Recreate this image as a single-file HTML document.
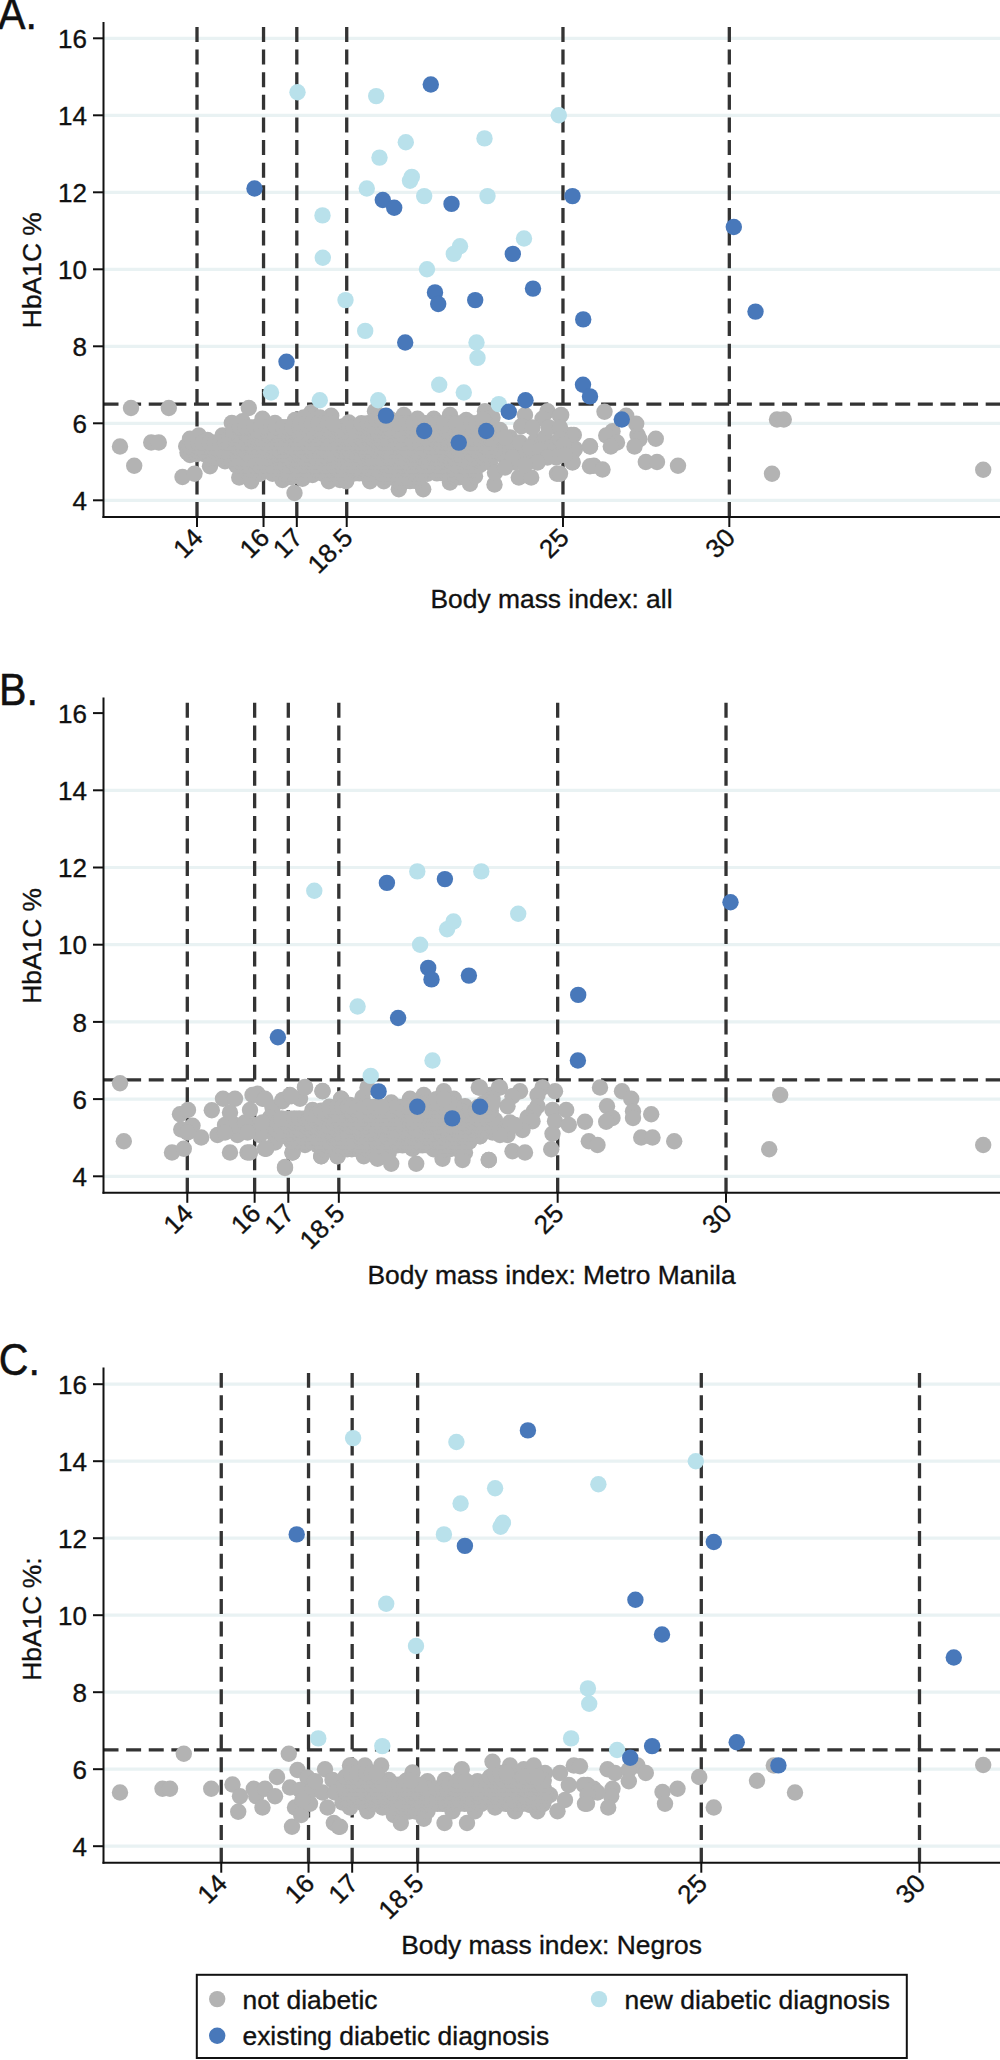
<!DOCTYPE html>
<html lang="en"><head><meta charset="utf-8"><title>HbA1C vs body mass index</title>
<style>html,body{margin:0;padding:0;background:#fff}svg{display:block}</style>
</head><body>
<svg width="1000" height="2060" viewBox="0 0 1000 2060">
<rect width="1000" height="2060" fill="#ffffff"/>
<g id="panelA">
<line x1="104" y1="500.30" x2="1000" y2="500.30" stroke="#e9f2f3" stroke-width="3.2"/>
<line x1="104" y1="423.30" x2="1000" y2="423.30" stroke="#e9f2f3" stroke-width="3.2"/>
<line x1="104" y1="346.30" x2="1000" y2="346.30" stroke="#e9f2f3" stroke-width="3.2"/>
<line x1="104" y1="269.30" x2="1000" y2="269.30" stroke="#e9f2f3" stroke-width="3.2"/>
<line x1="104" y1="192.30" x2="1000" y2="192.30" stroke="#e9f2f3" stroke-width="3.2"/>
<line x1="104" y1="115.30" x2="1000" y2="115.30" stroke="#e9f2f3" stroke-width="3.2"/>
<line x1="104" y1="38.30" x2="1000" y2="38.30" stroke="#e9f2f3" stroke-width="3.2"/>
<line x1="197.00" y1="517.00" x2="197.00" y2="26.50" stroke="#333333" stroke-width="3.3" stroke-dasharray="15 7.62"/>
<line x1="263.54" y1="517.00" x2="263.54" y2="26.50" stroke="#333333" stroke-width="3.3" stroke-dasharray="15 7.62"/>
<line x1="296.81" y1="517.00" x2="296.81" y2="26.50" stroke="#333333" stroke-width="3.3" stroke-dasharray="15 7.62"/>
<line x1="346.72" y1="517.00" x2="346.72" y2="26.50" stroke="#333333" stroke-width="3.3" stroke-dasharray="15 7.62"/>
<line x1="562.97" y1="517.00" x2="562.97" y2="26.50" stroke="#333333" stroke-width="3.3" stroke-dasharray="15 7.62"/>
<line x1="729.32" y1="517.00" x2="729.32" y2="26.50" stroke="#333333" stroke-width="3.3" stroke-dasharray="15 7.62"/>
<line x1="103.5" y1="404.05" x2="1000" y2="404.05" stroke="#333333" stroke-width="3.3" stroke-dasharray="15 7.62"/>
<g fill="#b3b3b3">
<circle cx="131.0" cy="408.0" r="8.2"/>
<circle cx="168.8" cy="408.0" r="8.2"/>
<circle cx="120.0" cy="446.5" r="8.2"/>
<circle cx="151.2" cy="442.5" r="8.2"/>
<circle cx="158.8" cy="442.5" r="8.2"/>
<circle cx="134.2" cy="465.8" r="8.2"/>
<circle cx="182.5" cy="477.0" r="8.2"/>
<circle cx="194.5" cy="473.8" r="8.2"/>
<circle cx="248.8" cy="408.0" r="8.2"/>
<circle cx="294.5" cy="493.0" r="8.2"/>
<circle cx="239.2" cy="477.5" r="8.2"/>
<circle cx="251.2" cy="481.2" r="8.2"/>
<circle cx="331.2" cy="415.8" r="8.2"/>
<circle cx="311.2" cy="412.5" r="8.2"/>
<circle cx="190.0" cy="438.8" r="8.2"/>
<circle cx="198.8" cy="435.5" r="8.2"/>
<circle cx="207.5" cy="440.0" r="8.2"/>
<circle cx="222.5" cy="435.5" r="8.2"/>
<circle cx="231.8" cy="423.0" r="8.2"/>
<circle cx="242.5" cy="421.2" r="8.2"/>
<circle cx="262.5" cy="418.8" r="8.2"/>
<circle cx="275.0" cy="423.0" r="8.2"/>
<circle cx="295.0" cy="420.0" r="8.2"/>
<circle cx="303.8" cy="417.5" r="8.2"/>
<circle cx="320.0" cy="417.5" r="8.2"/>
<circle cx="343.8" cy="426.2" r="8.2"/>
<circle cx="190.0" cy="455.0" r="8.2"/>
<circle cx="210.0" cy="466.2" r="8.2"/>
<circle cx="225.0" cy="461.2" r="8.2"/>
<circle cx="260.0" cy="473.8" r="8.2"/>
<circle cx="272.5" cy="473.8" r="8.2"/>
<circle cx="282.5" cy="480.0" r="8.2"/>
<circle cx="302.5" cy="478.8" r="8.2"/>
<circle cx="312.5" cy="475.0" r="8.2"/>
<circle cx="328.8" cy="481.2" r="8.2"/>
<circle cx="340.0" cy="480.0" r="8.2"/>
<circle cx="186.2" cy="446.2" r="8.2"/>
<circle cx="187.5" cy="452.5" r="8.2"/>
<circle cx="348.8" cy="422.5" r="8.2"/>
<circle cx="375.0" cy="411.2" r="8.2"/>
<circle cx="403.8" cy="415.0" r="8.2"/>
<circle cx="417.5" cy="418.8" r="8.2"/>
<circle cx="433.8" cy="418.8" r="8.2"/>
<circle cx="450.0" cy="415.0" r="8.2"/>
<circle cx="466.2" cy="420.0" r="8.2"/>
<circle cx="485.0" cy="411.2" r="8.2"/>
<circle cx="492.5" cy="417.5" r="8.2"/>
<circle cx="525.0" cy="415.0" r="8.2"/>
<circle cx="521.2" cy="426.2" r="8.2"/>
<circle cx="547.5" cy="411.2" r="8.2"/>
<circle cx="542.5" cy="418.8" r="8.2"/>
<circle cx="561.2" cy="415.0" r="8.2"/>
<circle cx="561.2" cy="431.2" r="8.2"/>
<circle cx="573.8" cy="435.0" r="8.2"/>
<circle cx="535.0" cy="441.2" r="8.2"/>
<circle cx="575.0" cy="448.8" r="8.2"/>
<circle cx="590.0" cy="446.2" r="8.2"/>
<circle cx="590.0" cy="466.2" r="8.2"/>
<circle cx="346.2" cy="481.2" r="8.2"/>
<circle cx="370.0" cy="481.2" r="8.2"/>
<circle cx="383.8" cy="481.2" r="8.2"/>
<circle cx="398.8" cy="489.2" r="8.2"/>
<circle cx="423.2" cy="489.2" r="8.2"/>
<circle cx="427.5" cy="473.8" r="8.2"/>
<circle cx="450.0" cy="482.5" r="8.2"/>
<circle cx="470.0" cy="483.8" r="8.2"/>
<circle cx="475.0" cy="476.2" r="8.2"/>
<circle cx="494.5" cy="484.5" r="8.2"/>
<circle cx="490.0" cy="462.5" r="8.2"/>
<circle cx="518.8" cy="477.5" r="8.2"/>
<circle cx="531.2" cy="477.5" r="8.2"/>
<circle cx="515.0" cy="462.5" r="8.2"/>
<circle cx="535.0" cy="457.5" r="8.2"/>
<circle cx="557.0" cy="473.8" r="8.2"/>
<circle cx="556.2" cy="457.5" r="8.2"/>
<circle cx="572.5" cy="462.5" r="8.2"/>
<circle cx="500.0" cy="430.0" r="8.2"/>
<circle cx="510.0" cy="437.5" r="8.2"/>
<circle cx="515.0" cy="447.5" r="8.2"/>
<circle cx="502.5" cy="455.0" r="8.2"/>
<circle cx="525.0" cy="452.5" r="8.2"/>
<circle cx="545.0" cy="437.5" r="8.2"/>
<circle cx="550.0" cy="447.5" r="8.2"/>
<circle cx="565.0" cy="445.0" r="8.2"/>
<circle cx="548.8" cy="427.5" r="8.2"/>
<circle cx="532.5" cy="427.5" r="8.2"/>
<circle cx="502.5" cy="442.5" r="8.2"/>
<circle cx="495.0" cy="450.0" r="8.2"/>
<circle cx="505.0" cy="437.5" r="8.2"/>
<circle cx="512.5" cy="457.5" r="8.2"/>
<circle cx="520.0" cy="442.5" r="8.2"/>
<circle cx="530.0" cy="447.5" r="8.2"/>
<circle cx="540.0" cy="450.0" r="8.2"/>
<circle cx="547.5" cy="457.5" r="8.2"/>
<circle cx="537.5" cy="462.5" r="8.2"/>
<circle cx="525.0" cy="465.0" r="8.2"/>
<circle cx="557.5" cy="442.5" r="8.2"/>
<circle cx="567.5" cy="452.5" r="8.2"/>
<circle cx="490.0" cy="437.5" r="8.2"/>
<circle cx="482.5" cy="445.0" r="8.2"/>
<circle cx="485.0" cy="455.0" r="8.2"/>
<circle cx="480.0" cy="465.0" r="8.2"/>
<circle cx="495.0" cy="472.5" r="8.2"/>
<circle cx="505.0" cy="467.5" r="8.2"/>
<circle cx="560.0" cy="415.8" r="8.2"/>
<circle cx="604.5" cy="411.8" r="8.2"/>
<circle cx="626.2" cy="415.8" r="8.2"/>
<circle cx="636.2" cy="423.8" r="8.2"/>
<circle cx="612.5" cy="431.2" r="8.2"/>
<circle cx="606.2" cy="435.5" r="8.2"/>
<circle cx="637.5" cy="435.0" r="8.2"/>
<circle cx="639.5" cy="439.2" r="8.2"/>
<circle cx="655.8" cy="438.8" r="8.2"/>
<circle cx="617.0" cy="442.5" r="8.2"/>
<circle cx="610.8" cy="446.5" r="8.2"/>
<circle cx="634.5" cy="446.5" r="8.2"/>
<circle cx="590.0" cy="446.5" r="8.2"/>
<circle cx="571.2" cy="435.0" r="8.2"/>
<circle cx="573.8" cy="450.5" r="8.2"/>
<circle cx="572.5" cy="462.0" r="8.2"/>
<circle cx="560.0" cy="427.5" r="8.2"/>
<circle cx="560.0" cy="438.8" r="8.2"/>
<circle cx="560.0" cy="455.0" r="8.2"/>
<circle cx="593.8" cy="465.8" r="8.2"/>
<circle cx="602.5" cy="469.5" r="8.2"/>
<circle cx="645.8" cy="462.0" r="8.2"/>
<circle cx="657.0" cy="462.0" r="8.2"/>
<circle cx="678.0" cy="465.8" r="8.2"/>
<circle cx="560.0" cy="473.8" r="8.2"/>
<circle cx="777.0" cy="419.5" r="8.2"/>
<circle cx="783.8" cy="419.5" r="8.2"/>
<circle cx="772.0" cy="473.8" r="8.2"/>
<circle cx="563.8" cy="445.0" r="8.2"/>
<circle cx="565.0" cy="455.0" r="8.2"/>
<circle cx="983.2" cy="469.8" r="8.2"/>
<circle cx="398.2" cy="481.1" r="8.2"/>
<circle cx="405.5" cy="481.1" r="8.2"/>
<circle cx="410.0" cy="481.1" r="8.2"/>
<circle cx="416.3" cy="481.1" r="8.2"/>
<circle cx="291.2" cy="477.2" r="8.2"/>
<circle cx="386.8" cy="477.2" r="8.2"/>
<circle cx="391.6" cy="477.2" r="8.2"/>
<circle cx="397.9" cy="477.2" r="8.2"/>
<circle cx="401.3" cy="477.2" r="8.2"/>
<circle cx="407.4" cy="477.2" r="8.2"/>
<circle cx="414.5" cy="477.2" r="8.2"/>
<circle cx="419.6" cy="477.2" r="8.2"/>
<circle cx="449.5" cy="477.2" r="8.2"/>
<circle cx="454.7" cy="477.2" r="8.2"/>
<circle cx="459.2" cy="477.2" r="8.2"/>
<circle cx="465.0" cy="477.2" r="8.2"/>
<circle cx="249.2" cy="473.4" r="8.2"/>
<circle cx="278.8" cy="473.4" r="8.2"/>
<circle cx="284.7" cy="473.4" r="8.2"/>
<circle cx="288.4" cy="473.4" r="8.2"/>
<circle cx="293.7" cy="473.4" r="8.2"/>
<circle cx="301.6" cy="473.4" r="8.2"/>
<circle cx="322.2" cy="473.4" r="8.2"/>
<circle cx="329.4" cy="473.4" r="8.2"/>
<circle cx="335.3" cy="473.4" r="8.2"/>
<circle cx="341.1" cy="473.4" r="8.2"/>
<circle cx="348.1" cy="473.4" r="8.2"/>
<circle cx="354.5" cy="473.4" r="8.2"/>
<circle cx="359.3" cy="473.4" r="8.2"/>
<circle cx="365.1" cy="473.4" r="8.2"/>
<circle cx="368.4" cy="473.4" r="8.2"/>
<circle cx="373.8" cy="473.4" r="8.2"/>
<circle cx="381.6" cy="473.4" r="8.2"/>
<circle cx="386.9" cy="473.4" r="8.2"/>
<circle cx="393.9" cy="473.4" r="8.2"/>
<circle cx="397.2" cy="473.4" r="8.2"/>
<circle cx="401.8" cy="473.4" r="8.2"/>
<circle cx="407.5" cy="473.4" r="8.2"/>
<circle cx="414.7" cy="473.4" r="8.2"/>
<circle cx="419.7" cy="473.4" r="8.2"/>
<circle cx="436.9" cy="473.4" r="8.2"/>
<circle cx="442.9" cy="473.4" r="8.2"/>
<circle cx="447.0" cy="473.4" r="8.2"/>
<circle cx="453.7" cy="473.4" r="8.2"/>
<circle cx="461.6" cy="473.4" r="8.2"/>
<circle cx="465.5" cy="473.4" r="8.2"/>
<circle cx="243.5" cy="469.5" r="8.2"/>
<circle cx="249.7" cy="469.5" r="8.2"/>
<circle cx="254.9" cy="469.5" r="8.2"/>
<circle cx="259.8" cy="469.5" r="8.2"/>
<circle cx="264.7" cy="469.5" r="8.2"/>
<circle cx="270.1" cy="469.5" r="8.2"/>
<circle cx="274.5" cy="469.5" r="8.2"/>
<circle cx="280.1" cy="469.5" r="8.2"/>
<circle cx="284.1" cy="469.5" r="8.2"/>
<circle cx="290.9" cy="469.5" r="8.2"/>
<circle cx="296.2" cy="469.5" r="8.2"/>
<circle cx="300.8" cy="469.5" r="8.2"/>
<circle cx="305.1" cy="469.5" r="8.2"/>
<circle cx="310.8" cy="469.5" r="8.2"/>
<circle cx="316.3" cy="469.5" r="8.2"/>
<circle cx="320.0" cy="469.5" r="8.2"/>
<circle cx="326.4" cy="469.5" r="8.2"/>
<circle cx="331.3" cy="469.5" r="8.2"/>
<circle cx="337.6" cy="469.5" r="8.2"/>
<circle cx="341.4" cy="469.5" r="8.2"/>
<circle cx="345.5" cy="469.5" r="8.2"/>
<circle cx="352.3" cy="469.5" r="8.2"/>
<circle cx="358.6" cy="469.5" r="8.2"/>
<circle cx="364.6" cy="469.5" r="8.2"/>
<circle cx="370.6" cy="469.5" r="8.2"/>
<circle cx="376.6" cy="469.5" r="8.2"/>
<circle cx="381.5" cy="469.5" r="8.2"/>
<circle cx="388.0" cy="469.5" r="8.2"/>
<circle cx="393.9" cy="469.5" r="8.2"/>
<circle cx="399.2" cy="469.5" r="8.2"/>
<circle cx="406.6" cy="469.5" r="8.2"/>
<circle cx="411.1" cy="469.5" r="8.2"/>
<circle cx="416.2" cy="469.5" r="8.2"/>
<circle cx="420.0" cy="469.5" r="8.2"/>
<circle cx="425.2" cy="469.5" r="8.2"/>
<circle cx="432.1" cy="469.5" r="8.2"/>
<circle cx="436.2" cy="469.5" r="8.2"/>
<circle cx="440.8" cy="469.5" r="8.2"/>
<circle cx="449.4" cy="469.5" r="8.2"/>
<circle cx="454.0" cy="469.5" r="8.2"/>
<circle cx="458.1" cy="469.5" r="8.2"/>
<circle cx="465.9" cy="469.5" r="8.2"/>
<circle cx="469.4" cy="469.5" r="8.2"/>
<circle cx="474.7" cy="469.5" r="8.2"/>
<circle cx="236.6" cy="465.6" r="8.2"/>
<circle cx="239.3" cy="465.6" r="8.2"/>
<circle cx="244.6" cy="465.6" r="8.2"/>
<circle cx="247.9" cy="465.6" r="8.2"/>
<circle cx="255.0" cy="465.6" r="8.2"/>
<circle cx="259.9" cy="465.6" r="8.2"/>
<circle cx="265.9" cy="465.6" r="8.2"/>
<circle cx="271.1" cy="465.6" r="8.2"/>
<circle cx="273.8" cy="465.6" r="8.2"/>
<circle cx="280.8" cy="465.6" r="8.2"/>
<circle cx="286.2" cy="465.6" r="8.2"/>
<circle cx="291.8" cy="465.6" r="8.2"/>
<circle cx="296.2" cy="465.6" r="8.2"/>
<circle cx="300.4" cy="465.6" r="8.2"/>
<circle cx="304.5" cy="465.6" r="8.2"/>
<circle cx="311.6" cy="465.6" r="8.2"/>
<circle cx="314.5" cy="465.6" r="8.2"/>
<circle cx="320.3" cy="465.6" r="8.2"/>
<circle cx="324.5" cy="465.6" r="8.2"/>
<circle cx="328.7" cy="465.6" r="8.2"/>
<circle cx="333.9" cy="465.6" r="8.2"/>
<circle cx="340.1" cy="465.6" r="8.2"/>
<circle cx="345.4" cy="465.6" r="8.2"/>
<circle cx="350.0" cy="465.6" r="8.2"/>
<circle cx="354.8" cy="465.6" r="8.2"/>
<circle cx="362.3" cy="465.6" r="8.2"/>
<circle cx="366.6" cy="465.6" r="8.2"/>
<circle cx="372.6" cy="465.6" r="8.2"/>
<circle cx="379.8" cy="465.6" r="8.2"/>
<circle cx="386.2" cy="465.6" r="8.2"/>
<circle cx="390.6" cy="465.6" r="8.2"/>
<circle cx="397.8" cy="465.6" r="8.2"/>
<circle cx="402.5" cy="465.6" r="8.2"/>
<circle cx="408.2" cy="465.6" r="8.2"/>
<circle cx="412.7" cy="465.6" r="8.2"/>
<circle cx="416.3" cy="465.6" r="8.2"/>
<circle cx="422.0" cy="465.6" r="8.2"/>
<circle cx="425.4" cy="465.6" r="8.2"/>
<circle cx="431.3" cy="465.6" r="8.2"/>
<circle cx="437.5" cy="465.6" r="8.2"/>
<circle cx="441.3" cy="465.6" r="8.2"/>
<circle cx="446.7" cy="465.6" r="8.2"/>
<circle cx="451.1" cy="465.6" r="8.2"/>
<circle cx="457.2" cy="465.6" r="8.2"/>
<circle cx="463.1" cy="465.6" r="8.2"/>
<circle cx="468.8" cy="465.6" r="8.2"/>
<circle cx="472.3" cy="465.6" r="8.2"/>
<circle cx="476.3" cy="465.6" r="8.2"/>
<circle cx="234.0" cy="461.8" r="8.2"/>
<circle cx="239.9" cy="461.8" r="8.2"/>
<circle cx="245.8" cy="461.8" r="8.2"/>
<circle cx="252.2" cy="461.8" r="8.2"/>
<circle cx="256.0" cy="461.8" r="8.2"/>
<circle cx="260.3" cy="461.8" r="8.2"/>
<circle cx="268.8" cy="461.8" r="8.2"/>
<circle cx="274.3" cy="461.8" r="8.2"/>
<circle cx="279.4" cy="461.8" r="8.2"/>
<circle cx="285.8" cy="461.8" r="8.2"/>
<circle cx="293.0" cy="461.8" r="8.2"/>
<circle cx="299.0" cy="461.8" r="8.2"/>
<circle cx="305.9" cy="461.8" r="8.2"/>
<circle cx="310.9" cy="461.8" r="8.2"/>
<circle cx="314.7" cy="461.8" r="8.2"/>
<circle cx="319.8" cy="461.8" r="8.2"/>
<circle cx="327.4" cy="461.8" r="8.2"/>
<circle cx="333.4" cy="461.8" r="8.2"/>
<circle cx="339.1" cy="461.8" r="8.2"/>
<circle cx="343.9" cy="461.8" r="8.2"/>
<circle cx="349.4" cy="461.8" r="8.2"/>
<circle cx="355.4" cy="461.8" r="8.2"/>
<circle cx="359.8" cy="461.8" r="8.2"/>
<circle cx="362.9" cy="461.8" r="8.2"/>
<circle cx="369.3" cy="461.8" r="8.2"/>
<circle cx="373.9" cy="461.8" r="8.2"/>
<circle cx="380.3" cy="461.8" r="8.2"/>
<circle cx="385.4" cy="461.8" r="8.2"/>
<circle cx="392.1" cy="461.8" r="8.2"/>
<circle cx="397.7" cy="461.8" r="8.2"/>
<circle cx="400.7" cy="461.8" r="8.2"/>
<circle cx="406.9" cy="461.8" r="8.2"/>
<circle cx="411.4" cy="461.8" r="8.2"/>
<circle cx="414.2" cy="461.8" r="8.2"/>
<circle cx="420.5" cy="461.8" r="8.2"/>
<circle cx="426.6" cy="461.8" r="8.2"/>
<circle cx="431.1" cy="461.8" r="8.2"/>
<circle cx="436.4" cy="461.8" r="8.2"/>
<circle cx="441.7" cy="461.8" r="8.2"/>
<circle cx="446.5" cy="461.8" r="8.2"/>
<circle cx="451.0" cy="461.8" r="8.2"/>
<circle cx="458.3" cy="461.8" r="8.2"/>
<circle cx="464.4" cy="461.8" r="8.2"/>
<circle cx="468.6" cy="461.8" r="8.2"/>
<circle cx="475.4" cy="461.8" r="8.2"/>
<circle cx="481.0" cy="461.8" r="8.2"/>
<circle cx="209.7" cy="458.0" r="8.2"/>
<circle cx="214.8" cy="458.0" r="8.2"/>
<circle cx="218.2" cy="458.0" r="8.2"/>
<circle cx="223.3" cy="458.0" r="8.2"/>
<circle cx="228.2" cy="458.0" r="8.2"/>
<circle cx="232.7" cy="458.0" r="8.2"/>
<circle cx="238.9" cy="458.0" r="8.2"/>
<circle cx="242.7" cy="458.0" r="8.2"/>
<circle cx="247.7" cy="458.0" r="8.2"/>
<circle cx="255.9" cy="458.0" r="8.2"/>
<circle cx="261.6" cy="458.0" r="8.2"/>
<circle cx="266.9" cy="458.0" r="8.2"/>
<circle cx="274.4" cy="458.0" r="8.2"/>
<circle cx="279.1" cy="458.0" r="8.2"/>
<circle cx="283.0" cy="458.0" r="8.2"/>
<circle cx="289.2" cy="458.0" r="8.2"/>
<circle cx="294.3" cy="458.0" r="8.2"/>
<circle cx="297.4" cy="458.0" r="8.2"/>
<circle cx="302.8" cy="458.0" r="8.2"/>
<circle cx="309.7" cy="458.0" r="8.2"/>
<circle cx="316.1" cy="458.0" r="8.2"/>
<circle cx="322.2" cy="458.0" r="8.2"/>
<circle cx="328.1" cy="458.0" r="8.2"/>
<circle cx="333.1" cy="458.0" r="8.2"/>
<circle cx="340.3" cy="458.0" r="8.2"/>
<circle cx="347.0" cy="458.0" r="8.2"/>
<circle cx="350.4" cy="458.0" r="8.2"/>
<circle cx="357.4" cy="458.0" r="8.2"/>
<circle cx="363.3" cy="458.0" r="8.2"/>
<circle cx="369.2" cy="458.0" r="8.2"/>
<circle cx="374.9" cy="458.0" r="8.2"/>
<circle cx="381.0" cy="458.0" r="8.2"/>
<circle cx="386.9" cy="458.0" r="8.2"/>
<circle cx="390.8" cy="458.0" r="8.2"/>
<circle cx="397.3" cy="458.0" r="8.2"/>
<circle cx="401.1" cy="458.0" r="8.2"/>
<circle cx="409.7" cy="458.0" r="8.2"/>
<circle cx="413.0" cy="458.0" r="8.2"/>
<circle cx="417.4" cy="458.0" r="8.2"/>
<circle cx="422.5" cy="458.0" r="8.2"/>
<circle cx="427.6" cy="458.0" r="8.2"/>
<circle cx="434.8" cy="458.0" r="8.2"/>
<circle cx="439.9" cy="458.0" r="8.2"/>
<circle cx="445.4" cy="458.0" r="8.2"/>
<circle cx="450.1" cy="458.0" r="8.2"/>
<circle cx="454.1" cy="458.0" r="8.2"/>
<circle cx="460.7" cy="458.0" r="8.2"/>
<circle cx="467.4" cy="458.0" r="8.2"/>
<circle cx="473.0" cy="458.0" r="8.2"/>
<circle cx="477.9" cy="458.0" r="8.2"/>
<circle cx="483.6" cy="458.0" r="8.2"/>
<circle cx="196.4" cy="454.1" r="8.2"/>
<circle cx="204.6" cy="454.1" r="8.2"/>
<circle cx="209.3" cy="454.1" r="8.2"/>
<circle cx="212.8" cy="454.1" r="8.2"/>
<circle cx="220.7" cy="454.1" r="8.2"/>
<circle cx="227.6" cy="454.1" r="8.2"/>
<circle cx="230.3" cy="454.1" r="8.2"/>
<circle cx="235.7" cy="454.1" r="8.2"/>
<circle cx="242.8" cy="454.1" r="8.2"/>
<circle cx="248.2" cy="454.1" r="8.2"/>
<circle cx="254.1" cy="454.1" r="8.2"/>
<circle cx="258.7" cy="454.1" r="8.2"/>
<circle cx="265.5" cy="454.1" r="8.2"/>
<circle cx="273.3" cy="454.1" r="8.2"/>
<circle cx="276.9" cy="454.1" r="8.2"/>
<circle cx="282.9" cy="454.1" r="8.2"/>
<circle cx="287.8" cy="454.1" r="8.2"/>
<circle cx="293.0" cy="454.1" r="8.2"/>
<circle cx="298.4" cy="454.1" r="8.2"/>
<circle cx="303.6" cy="454.1" r="8.2"/>
<circle cx="306.9" cy="454.1" r="8.2"/>
<circle cx="313.8" cy="454.1" r="8.2"/>
<circle cx="319.6" cy="454.1" r="8.2"/>
<circle cx="323.5" cy="454.1" r="8.2"/>
<circle cx="329.9" cy="454.1" r="8.2"/>
<circle cx="334.5" cy="454.1" r="8.2"/>
<circle cx="339.0" cy="454.1" r="8.2"/>
<circle cx="344.8" cy="454.1" r="8.2"/>
<circle cx="350.2" cy="454.1" r="8.2"/>
<circle cx="355.9" cy="454.1" r="8.2"/>
<circle cx="360.3" cy="454.1" r="8.2"/>
<circle cx="366.4" cy="454.1" r="8.2"/>
<circle cx="371.3" cy="454.1" r="8.2"/>
<circle cx="376.8" cy="454.1" r="8.2"/>
<circle cx="382.5" cy="454.1" r="8.2"/>
<circle cx="387.1" cy="454.1" r="8.2"/>
<circle cx="390.3" cy="454.1" r="8.2"/>
<circle cx="396.8" cy="454.1" r="8.2"/>
<circle cx="404.1" cy="454.1" r="8.2"/>
<circle cx="408.0" cy="454.1" r="8.2"/>
<circle cx="414.4" cy="454.1" r="8.2"/>
<circle cx="420.0" cy="454.1" r="8.2"/>
<circle cx="425.3" cy="454.1" r="8.2"/>
<circle cx="432.0" cy="454.1" r="8.2"/>
<circle cx="436.0" cy="454.1" r="8.2"/>
<circle cx="443.2" cy="454.1" r="8.2"/>
<circle cx="449.4" cy="454.1" r="8.2"/>
<circle cx="456.9" cy="454.1" r="8.2"/>
<circle cx="460.1" cy="454.1" r="8.2"/>
<circle cx="468.3" cy="454.1" r="8.2"/>
<circle cx="472.2" cy="454.1" r="8.2"/>
<circle cx="476.6" cy="454.1" r="8.2"/>
<circle cx="481.1" cy="454.1" r="8.2"/>
<circle cx="485.4" cy="454.1" r="8.2"/>
<circle cx="196.7" cy="450.2" r="8.2"/>
<circle cx="203.2" cy="450.2" r="8.2"/>
<circle cx="208.8" cy="450.2" r="8.2"/>
<circle cx="213.0" cy="450.2" r="8.2"/>
<circle cx="219.2" cy="450.2" r="8.2"/>
<circle cx="222.4" cy="450.2" r="8.2"/>
<circle cx="228.3" cy="450.2" r="8.2"/>
<circle cx="235.4" cy="450.2" r="8.2"/>
<circle cx="239.9" cy="450.2" r="8.2"/>
<circle cx="244.0" cy="450.2" r="8.2"/>
<circle cx="251.3" cy="450.2" r="8.2"/>
<circle cx="259.1" cy="450.2" r="8.2"/>
<circle cx="262.6" cy="450.2" r="8.2"/>
<circle cx="270.3" cy="450.2" r="8.2"/>
<circle cx="275.3" cy="450.2" r="8.2"/>
<circle cx="279.2" cy="450.2" r="8.2"/>
<circle cx="284.3" cy="450.2" r="8.2"/>
<circle cx="290.8" cy="450.2" r="8.2"/>
<circle cx="296.2" cy="450.2" r="8.2"/>
<circle cx="302.0" cy="450.2" r="8.2"/>
<circle cx="310.0" cy="450.2" r="8.2"/>
<circle cx="313.4" cy="450.2" r="8.2"/>
<circle cx="319.3" cy="450.2" r="8.2"/>
<circle cx="325.4" cy="450.2" r="8.2"/>
<circle cx="333.1" cy="450.2" r="8.2"/>
<circle cx="339.7" cy="450.2" r="8.2"/>
<circle cx="344.4" cy="450.2" r="8.2"/>
<circle cx="349.4" cy="450.2" r="8.2"/>
<circle cx="355.1" cy="450.2" r="8.2"/>
<circle cx="361.3" cy="450.2" r="8.2"/>
<circle cx="364.4" cy="450.2" r="8.2"/>
<circle cx="369.7" cy="450.2" r="8.2"/>
<circle cx="375.7" cy="450.2" r="8.2"/>
<circle cx="382.4" cy="450.2" r="8.2"/>
<circle cx="385.0" cy="450.2" r="8.2"/>
<circle cx="390.3" cy="450.2" r="8.2"/>
<circle cx="396.3" cy="450.2" r="8.2"/>
<circle cx="400.9" cy="450.2" r="8.2"/>
<circle cx="407.4" cy="450.2" r="8.2"/>
<circle cx="414.0" cy="450.2" r="8.2"/>
<circle cx="418.3" cy="450.2" r="8.2"/>
<circle cx="425.2" cy="450.2" r="8.2"/>
<circle cx="431.1" cy="450.2" r="8.2"/>
<circle cx="436.9" cy="450.2" r="8.2"/>
<circle cx="441.8" cy="450.2" r="8.2"/>
<circle cx="447.8" cy="450.2" r="8.2"/>
<circle cx="452.2" cy="450.2" r="8.2"/>
<circle cx="458.9" cy="450.2" r="8.2"/>
<circle cx="462.6" cy="450.2" r="8.2"/>
<circle cx="470.1" cy="450.2" r="8.2"/>
<circle cx="475.7" cy="450.2" r="8.2"/>
<circle cx="482.9" cy="450.2" r="8.2"/>
<circle cx="489.6" cy="450.2" r="8.2"/>
<circle cx="189.7" cy="446.4" r="8.2"/>
<circle cx="197.6" cy="446.4" r="8.2"/>
<circle cx="203.9" cy="446.4" r="8.2"/>
<circle cx="210.7" cy="446.4" r="8.2"/>
<circle cx="216.2" cy="446.4" r="8.2"/>
<circle cx="221.5" cy="446.4" r="8.2"/>
<circle cx="228.5" cy="446.4" r="8.2"/>
<circle cx="232.5" cy="446.4" r="8.2"/>
<circle cx="236.6" cy="446.4" r="8.2"/>
<circle cx="242.3" cy="446.4" r="8.2"/>
<circle cx="247.3" cy="446.4" r="8.2"/>
<circle cx="251.6" cy="446.4" r="8.2"/>
<circle cx="257.3" cy="446.4" r="8.2"/>
<circle cx="262.3" cy="446.4" r="8.2"/>
<circle cx="269.5" cy="446.4" r="8.2"/>
<circle cx="272.6" cy="446.4" r="8.2"/>
<circle cx="278.9" cy="446.4" r="8.2"/>
<circle cx="283.7" cy="446.4" r="8.2"/>
<circle cx="289.6" cy="446.4" r="8.2"/>
<circle cx="293.9" cy="446.4" r="8.2"/>
<circle cx="300.4" cy="446.4" r="8.2"/>
<circle cx="304.4" cy="446.4" r="8.2"/>
<circle cx="309.1" cy="446.4" r="8.2"/>
<circle cx="317.1" cy="446.4" r="8.2"/>
<circle cx="320.3" cy="446.4" r="8.2"/>
<circle cx="326.5" cy="446.4" r="8.2"/>
<circle cx="332.2" cy="446.4" r="8.2"/>
<circle cx="337.2" cy="446.4" r="8.2"/>
<circle cx="342.6" cy="446.4" r="8.2"/>
<circle cx="346.3" cy="446.4" r="8.2"/>
<circle cx="351.3" cy="446.4" r="8.2"/>
<circle cx="358.0" cy="446.4" r="8.2"/>
<circle cx="361.6" cy="446.4" r="8.2"/>
<circle cx="366.4" cy="446.4" r="8.2"/>
<circle cx="370.3" cy="446.4" r="8.2"/>
<circle cx="377.5" cy="446.4" r="8.2"/>
<circle cx="380.7" cy="446.4" r="8.2"/>
<circle cx="388.3" cy="446.4" r="8.2"/>
<circle cx="390.9" cy="446.4" r="8.2"/>
<circle cx="399.7" cy="446.4" r="8.2"/>
<circle cx="403.0" cy="446.4" r="8.2"/>
<circle cx="410.5" cy="446.4" r="8.2"/>
<circle cx="417.8" cy="446.4" r="8.2"/>
<circle cx="423.2" cy="446.4" r="8.2"/>
<circle cx="429.7" cy="446.4" r="8.2"/>
<circle cx="436.4" cy="446.4" r="8.2"/>
<circle cx="441.3" cy="446.4" r="8.2"/>
<circle cx="446.5" cy="446.4" r="8.2"/>
<circle cx="452.0" cy="446.4" r="8.2"/>
<circle cx="456.0" cy="446.4" r="8.2"/>
<circle cx="463.8" cy="446.4" r="8.2"/>
<circle cx="467.1" cy="446.4" r="8.2"/>
<circle cx="472.1" cy="446.4" r="8.2"/>
<circle cx="478.8" cy="446.4" r="8.2"/>
<circle cx="485.6" cy="446.4" r="8.2"/>
<circle cx="490.9" cy="446.4" r="8.2"/>
<circle cx="192.2" cy="442.6" r="8.2"/>
<circle cx="198.2" cy="442.6" r="8.2"/>
<circle cx="202.5" cy="442.6" r="8.2"/>
<circle cx="209.5" cy="442.6" r="8.2"/>
<circle cx="214.8" cy="442.6" r="8.2"/>
<circle cx="220.4" cy="442.6" r="8.2"/>
<circle cx="225.0" cy="442.6" r="8.2"/>
<circle cx="228.5" cy="442.6" r="8.2"/>
<circle cx="233.7" cy="442.6" r="8.2"/>
<circle cx="240.0" cy="442.6" r="8.2"/>
<circle cx="244.5" cy="442.6" r="8.2"/>
<circle cx="248.9" cy="442.6" r="8.2"/>
<circle cx="254.7" cy="442.6" r="8.2"/>
<circle cx="258.9" cy="442.6" r="8.2"/>
<circle cx="265.1" cy="442.6" r="8.2"/>
<circle cx="269.3" cy="442.6" r="8.2"/>
<circle cx="276.0" cy="442.6" r="8.2"/>
<circle cx="281.1" cy="442.6" r="8.2"/>
<circle cx="288.8" cy="442.6" r="8.2"/>
<circle cx="296.7" cy="442.6" r="8.2"/>
<circle cx="300.8" cy="442.6" r="8.2"/>
<circle cx="305.9" cy="442.6" r="8.2"/>
<circle cx="312.6" cy="442.6" r="8.2"/>
<circle cx="317.4" cy="442.6" r="8.2"/>
<circle cx="322.1" cy="442.6" r="8.2"/>
<circle cx="325.7" cy="442.6" r="8.2"/>
<circle cx="331.8" cy="442.6" r="8.2"/>
<circle cx="337.3" cy="442.6" r="8.2"/>
<circle cx="341.1" cy="442.6" r="8.2"/>
<circle cx="346.0" cy="442.6" r="8.2"/>
<circle cx="354.0" cy="442.6" r="8.2"/>
<circle cx="359.5" cy="442.6" r="8.2"/>
<circle cx="365.7" cy="442.6" r="8.2"/>
<circle cx="372.6" cy="442.6" r="8.2"/>
<circle cx="378.2" cy="442.6" r="8.2"/>
<circle cx="383.2" cy="442.6" r="8.2"/>
<circle cx="388.7" cy="442.6" r="8.2"/>
<circle cx="396.9" cy="442.6" r="8.2"/>
<circle cx="402.5" cy="442.6" r="8.2"/>
<circle cx="407.7" cy="442.6" r="8.2"/>
<circle cx="412.0" cy="442.6" r="8.2"/>
<circle cx="418.5" cy="442.6" r="8.2"/>
<circle cx="423.7" cy="442.6" r="8.2"/>
<circle cx="428.0" cy="442.6" r="8.2"/>
<circle cx="432.4" cy="442.6" r="8.2"/>
<circle cx="439.2" cy="442.6" r="8.2"/>
<circle cx="444.5" cy="442.6" r="8.2"/>
<circle cx="447.9" cy="442.6" r="8.2"/>
<circle cx="453.7" cy="442.6" r="8.2"/>
<circle cx="458.8" cy="442.6" r="8.2"/>
<circle cx="464.5" cy="442.6" r="8.2"/>
<circle cx="470.5" cy="442.6" r="8.2"/>
<circle cx="473.0" cy="442.6" r="8.2"/>
<circle cx="478.3" cy="442.6" r="8.2"/>
<circle cx="483.6" cy="442.6" r="8.2"/>
<circle cx="490.3" cy="442.6" r="8.2"/>
<circle cx="229.4" cy="438.7" r="8.2"/>
<circle cx="234.6" cy="438.7" r="8.2"/>
<circle cx="238.5" cy="438.7" r="8.2"/>
<circle cx="245.7" cy="438.7" r="8.2"/>
<circle cx="251.0" cy="438.7" r="8.2"/>
<circle cx="257.0" cy="438.7" r="8.2"/>
<circle cx="261.6" cy="438.7" r="8.2"/>
<circle cx="267.8" cy="438.7" r="8.2"/>
<circle cx="274.3" cy="438.7" r="8.2"/>
<circle cx="278.1" cy="438.7" r="8.2"/>
<circle cx="284.4" cy="438.7" r="8.2"/>
<circle cx="292.2" cy="438.7" r="8.2"/>
<circle cx="294.9" cy="438.7" r="8.2"/>
<circle cx="301.4" cy="438.7" r="8.2"/>
<circle cx="308.1" cy="438.7" r="8.2"/>
<circle cx="311.4" cy="438.7" r="8.2"/>
<circle cx="315.7" cy="438.7" r="8.2"/>
<circle cx="324.1" cy="438.7" r="8.2"/>
<circle cx="328.4" cy="438.7" r="8.2"/>
<circle cx="336.7" cy="438.7" r="8.2"/>
<circle cx="342.1" cy="438.7" r="8.2"/>
<circle cx="346.2" cy="438.7" r="8.2"/>
<circle cx="350.6" cy="438.7" r="8.2"/>
<circle cx="354.9" cy="438.7" r="8.2"/>
<circle cx="362.0" cy="438.7" r="8.2"/>
<circle cx="368.6" cy="438.7" r="8.2"/>
<circle cx="373.0" cy="438.7" r="8.2"/>
<circle cx="378.9" cy="438.7" r="8.2"/>
<circle cx="383.2" cy="438.7" r="8.2"/>
<circle cx="390.8" cy="438.7" r="8.2"/>
<circle cx="395.3" cy="438.7" r="8.2"/>
<circle cx="397.8" cy="438.7" r="8.2"/>
<circle cx="403.7" cy="438.7" r="8.2"/>
<circle cx="410.5" cy="438.7" r="8.2"/>
<circle cx="415.8" cy="438.7" r="8.2"/>
<circle cx="419.3" cy="438.7" r="8.2"/>
<circle cx="426.9" cy="438.7" r="8.2"/>
<circle cx="433.1" cy="438.7" r="8.2"/>
<circle cx="439.6" cy="438.7" r="8.2"/>
<circle cx="446.6" cy="438.7" r="8.2"/>
<circle cx="452.6" cy="438.7" r="8.2"/>
<circle cx="459.1" cy="438.7" r="8.2"/>
<circle cx="463.1" cy="438.7" r="8.2"/>
<circle cx="468.7" cy="438.7" r="8.2"/>
<circle cx="475.6" cy="438.7" r="8.2"/>
<circle cx="479.6" cy="438.7" r="8.2"/>
<circle cx="486.9" cy="438.7" r="8.2"/>
<circle cx="490.6" cy="438.7" r="8.2"/>
<circle cx="233.3" cy="434.9" r="8.2"/>
<circle cx="238.1" cy="434.9" r="8.2"/>
<circle cx="246.8" cy="434.9" r="8.2"/>
<circle cx="251.7" cy="434.9" r="8.2"/>
<circle cx="256.3" cy="434.9" r="8.2"/>
<circle cx="262.2" cy="434.9" r="8.2"/>
<circle cx="268.1" cy="434.9" r="8.2"/>
<circle cx="274.5" cy="434.9" r="8.2"/>
<circle cx="278.1" cy="434.9" r="8.2"/>
<circle cx="284.0" cy="434.9" r="8.2"/>
<circle cx="287.6" cy="434.9" r="8.2"/>
<circle cx="292.1" cy="434.9" r="8.2"/>
<circle cx="297.5" cy="434.9" r="8.2"/>
<circle cx="303.9" cy="434.9" r="8.2"/>
<circle cx="310.3" cy="434.9" r="8.2"/>
<circle cx="315.5" cy="434.9" r="8.2"/>
<circle cx="319.4" cy="434.9" r="8.2"/>
<circle cx="325.6" cy="434.9" r="8.2"/>
<circle cx="331.7" cy="434.9" r="8.2"/>
<circle cx="338.3" cy="434.9" r="8.2"/>
<circle cx="343.7" cy="434.9" r="8.2"/>
<circle cx="347.9" cy="434.9" r="8.2"/>
<circle cx="350.4" cy="434.9" r="8.2"/>
<circle cx="356.9" cy="434.9" r="8.2"/>
<circle cx="362.0" cy="434.9" r="8.2"/>
<circle cx="368.6" cy="434.9" r="8.2"/>
<circle cx="374.3" cy="434.9" r="8.2"/>
<circle cx="380.1" cy="434.9" r="8.2"/>
<circle cx="386.4" cy="434.9" r="8.2"/>
<circle cx="393.3" cy="434.9" r="8.2"/>
<circle cx="399.0" cy="434.9" r="8.2"/>
<circle cx="403.0" cy="434.9" r="8.2"/>
<circle cx="408.9" cy="434.9" r="8.2"/>
<circle cx="416.7" cy="434.9" r="8.2"/>
<circle cx="422.9" cy="434.9" r="8.2"/>
<circle cx="427.4" cy="434.9" r="8.2"/>
<circle cx="433.8" cy="434.9" r="8.2"/>
<circle cx="438.0" cy="434.9" r="8.2"/>
<circle cx="440.5" cy="434.9" r="8.2"/>
<circle cx="446.9" cy="434.9" r="8.2"/>
<circle cx="451.2" cy="434.9" r="8.2"/>
<circle cx="457.5" cy="434.9" r="8.2"/>
<circle cx="463.6" cy="434.9" r="8.2"/>
<circle cx="470.4" cy="434.9" r="8.2"/>
<circle cx="475.4" cy="434.9" r="8.2"/>
<circle cx="479.9" cy="434.9" r="8.2"/>
<circle cx="487.6" cy="434.9" r="8.2"/>
<circle cx="233.3" cy="431.0" r="8.2"/>
<circle cx="240.7" cy="431.0" r="8.2"/>
<circle cx="243.5" cy="431.0" r="8.2"/>
<circle cx="248.7" cy="431.0" r="8.2"/>
<circle cx="253.8" cy="431.0" r="8.2"/>
<circle cx="258.9" cy="431.0" r="8.2"/>
<circle cx="267.1" cy="431.0" r="8.2"/>
<circle cx="272.0" cy="431.0" r="8.2"/>
<circle cx="274.9" cy="431.0" r="8.2"/>
<circle cx="282.8" cy="431.0" r="8.2"/>
<circle cx="288.2" cy="431.0" r="8.2"/>
<circle cx="293.2" cy="431.0" r="8.2"/>
<circle cx="296.5" cy="431.0" r="8.2"/>
<circle cx="301.3" cy="431.0" r="8.2"/>
<circle cx="308.3" cy="431.0" r="8.2"/>
<circle cx="313.7" cy="431.0" r="8.2"/>
<circle cx="319.5" cy="431.0" r="8.2"/>
<circle cx="324.2" cy="431.0" r="8.2"/>
<circle cx="329.8" cy="431.0" r="8.2"/>
<circle cx="335.8" cy="431.0" r="8.2"/>
<circle cx="342.2" cy="431.0" r="8.2"/>
<circle cx="346.3" cy="431.0" r="8.2"/>
<circle cx="354.0" cy="431.0" r="8.2"/>
<circle cx="359.9" cy="431.0" r="8.2"/>
<circle cx="366.4" cy="431.0" r="8.2"/>
<circle cx="371.8" cy="431.0" r="8.2"/>
<circle cx="377.1" cy="431.0" r="8.2"/>
<circle cx="380.9" cy="431.0" r="8.2"/>
<circle cx="388.0" cy="431.0" r="8.2"/>
<circle cx="392.8" cy="431.0" r="8.2"/>
<circle cx="398.5" cy="431.0" r="8.2"/>
<circle cx="404.3" cy="431.0" r="8.2"/>
<circle cx="411.5" cy="431.0" r="8.2"/>
<circle cx="415.4" cy="431.0" r="8.2"/>
<circle cx="421.1" cy="431.0" r="8.2"/>
<circle cx="428.0" cy="431.0" r="8.2"/>
<circle cx="431.1" cy="431.0" r="8.2"/>
<circle cx="436.1" cy="431.0" r="8.2"/>
<circle cx="442.3" cy="431.0" r="8.2"/>
<circle cx="446.8" cy="431.0" r="8.2"/>
<circle cx="452.7" cy="431.0" r="8.2"/>
<circle cx="458.1" cy="431.0" r="8.2"/>
<circle cx="464.3" cy="431.0" r="8.2"/>
<circle cx="470.5" cy="431.0" r="8.2"/>
<circle cx="474.5" cy="431.0" r="8.2"/>
<circle cx="479.9" cy="431.0" r="8.2"/>
<circle cx="484.8" cy="431.0" r="8.2"/>
<circle cx="487.6" cy="431.0" r="8.2"/>
<circle cx="239.9" cy="427.1" r="8.2"/>
<circle cx="245.2" cy="427.1" r="8.2"/>
<circle cx="249.0" cy="427.1" r="8.2"/>
<circle cx="254.7" cy="427.1" r="8.2"/>
<circle cx="260.8" cy="427.1" r="8.2"/>
<circle cx="266.0" cy="427.1" r="8.2"/>
<circle cx="271.7" cy="427.1" r="8.2"/>
<circle cx="275.9" cy="427.1" r="8.2"/>
<circle cx="282.8" cy="427.1" r="8.2"/>
<circle cx="287.0" cy="427.1" r="8.2"/>
<circle cx="292.2" cy="427.1" r="8.2"/>
<circle cx="299.3" cy="427.1" r="8.2"/>
<circle cx="305.6" cy="427.1" r="8.2"/>
<circle cx="310.7" cy="427.1" r="8.2"/>
<circle cx="315.8" cy="427.1" r="8.2"/>
<circle cx="321.1" cy="427.1" r="8.2"/>
<circle cx="324.8" cy="427.1" r="8.2"/>
<circle cx="330.3" cy="427.1" r="8.2"/>
<circle cx="336.0" cy="427.1" r="8.2"/>
<circle cx="341.3" cy="427.1" r="8.2"/>
<circle cx="349.2" cy="427.1" r="8.2"/>
<circle cx="353.3" cy="427.1" r="8.2"/>
<circle cx="360.0" cy="427.1" r="8.2"/>
<circle cx="364.5" cy="427.1" r="8.2"/>
<circle cx="368.4" cy="427.1" r="8.2"/>
<circle cx="374.7" cy="427.1" r="8.2"/>
<circle cx="379.0" cy="427.1" r="8.2"/>
<circle cx="383.0" cy="427.1" r="8.2"/>
<circle cx="389.3" cy="427.1" r="8.2"/>
<circle cx="392.8" cy="427.1" r="8.2"/>
<circle cx="401.1" cy="427.1" r="8.2"/>
<circle cx="405.8" cy="427.1" r="8.2"/>
<circle cx="411.4" cy="427.1" r="8.2"/>
<circle cx="417.6" cy="427.1" r="8.2"/>
<circle cx="423.9" cy="427.1" r="8.2"/>
<circle cx="428.1" cy="427.1" r="8.2"/>
<circle cx="433.8" cy="427.1" r="8.2"/>
<circle cx="439.5" cy="427.1" r="8.2"/>
<circle cx="443.7" cy="427.1" r="8.2"/>
<circle cx="448.1" cy="427.1" r="8.2"/>
<circle cx="453.3" cy="427.1" r="8.2"/>
<circle cx="458.9" cy="427.1" r="8.2"/>
<circle cx="465.3" cy="427.1" r="8.2"/>
<circle cx="471.8" cy="427.1" r="8.2"/>
<circle cx="475.7" cy="427.1" r="8.2"/>
<circle cx="480.5" cy="427.1" r="8.2"/>
<circle cx="487.1" cy="427.1" r="8.2"/>
<circle cx="300.6" cy="423.3" r="8.2"/>
<circle cx="306.1" cy="423.3" r="8.2"/>
<circle cx="311.9" cy="423.3" r="8.2"/>
<circle cx="318.6" cy="423.3" r="8.2"/>
<circle cx="323.5" cy="423.3" r="8.2"/>
<circle cx="327.9" cy="423.3" r="8.2"/>
<circle cx="332.7" cy="423.3" r="8.2"/>
<circle cx="361.4" cy="423.3" r="8.2"/>
<circle cx="368.0" cy="423.3" r="8.2"/>
<circle cx="372.9" cy="423.3" r="8.2"/>
<circle cx="381.1" cy="423.3" r="8.2"/>
<circle cx="384.7" cy="423.3" r="8.2"/>
<circle cx="389.5" cy="423.3" r="8.2"/>
<circle cx="396.3" cy="423.3" r="8.2"/>
<circle cx="401.5" cy="423.3" r="8.2"/>
<circle cx="408.5" cy="423.3" r="8.2"/>
<circle cx="413.6" cy="423.3" r="8.2"/>
<circle cx="419.7" cy="423.3" r="8.2"/>
<circle cx="425.4" cy="423.3" r="8.2"/>
<circle cx="430.0" cy="423.3" r="8.2"/>
<circle cx="435.6" cy="423.3" r="8.2"/>
<circle cx="438.5" cy="423.3" r="8.2"/>
<circle cx="444.1" cy="423.3" r="8.2"/>
<circle cx="450.5" cy="423.3" r="8.2"/>
<circle cx="456.0" cy="423.3" r="8.2"/>
<circle cx="461.8" cy="423.3" r="8.2"/>
<circle cx="471.1" cy="423.3" r="8.2"/>
<circle cx="476.1" cy="423.3" r="8.2"/>
<circle cx="483.2" cy="423.3" r="8.2"/>
<circle cx="486.5" cy="423.3" r="8.2"/>
<circle cx="376.1" cy="419.5" r="8.2"/>
<circle cx="382.1" cy="419.5" r="8.2"/>
<circle cx="386.9" cy="419.5" r="8.2"/>
<circle cx="390.8" cy="419.5" r="8.2"/>
<circle cx="482.9" cy="419.5" r="8.2"/>
</g>
<g fill="#b9e1eb">
<circle cx="297.5" cy="92.2" r="8.2"/>
<circle cx="376.2" cy="96.1" r="8.2"/>
<circle cx="405.8" cy="142.2" r="8.2"/>
<circle cx="379.5" cy="157.6" r="8.2"/>
<circle cx="411.8" cy="176.9" r="8.2"/>
<circle cx="410.0" cy="180.8" r="8.2"/>
<circle cx="366.8" cy="188.5" r="8.2"/>
<circle cx="424.2" cy="196.1" r="8.2"/>
<circle cx="322.5" cy="215.4" r="8.2"/>
<circle cx="484.5" cy="138.4" r="8.2"/>
<circle cx="558.8" cy="115.3" r="8.2"/>
<circle cx="487.5" cy="196.1" r="8.2"/>
<circle cx="524.0" cy="238.5" r="8.2"/>
<circle cx="322.8" cy="257.8" r="8.2"/>
<circle cx="345.5" cy="300.1" r="8.2"/>
<circle cx="365.2" cy="330.9" r="8.2"/>
<circle cx="427.0" cy="269.3" r="8.2"/>
<circle cx="460.0" cy="246.2" r="8.2"/>
<circle cx="453.8" cy="253.9" r="8.2"/>
<circle cx="476.5" cy="342.5" r="8.2"/>
<circle cx="477.5" cy="357.9" r="8.2"/>
<circle cx="439.2" cy="384.8" r="8.2"/>
<circle cx="463.8" cy="392.5" r="8.2"/>
<circle cx="271.0" cy="392.5" r="8.2"/>
<circle cx="319.8" cy="400.2" r="8.2"/>
<circle cx="378.2" cy="400.2" r="8.2"/>
<circle cx="498.8" cy="404.1" r="8.2"/>
</g>
<g fill="#4878ba">
<circle cx="430.8" cy="84.5" r="8.2"/>
<circle cx="254.5" cy="188.5" r="8.2"/>
<circle cx="382.8" cy="200.0" r="8.2"/>
<circle cx="394.2" cy="207.7" r="8.2"/>
<circle cx="451.5" cy="203.9" r="8.2"/>
<circle cx="572.5" cy="196.1" r="8.2"/>
<circle cx="405.2" cy="342.5" r="8.2"/>
<circle cx="286.5" cy="361.7" r="8.2"/>
<circle cx="435.0" cy="292.4" r="8.2"/>
<circle cx="438.2" cy="304.0" r="8.2"/>
<circle cx="475.2" cy="300.1" r="8.2"/>
<circle cx="386.0" cy="415.6" r="8.2"/>
<circle cx="512.8" cy="253.9" r="8.2"/>
<circle cx="533.0" cy="288.6" r="8.2"/>
<circle cx="583.2" cy="319.4" r="8.2"/>
<circle cx="583.0" cy="384.8" r="8.2"/>
<circle cx="590.0" cy="396.4" r="8.2"/>
<circle cx="525.5" cy="400.2" r="8.2"/>
<circle cx="508.8" cy="411.8" r="8.2"/>
<circle cx="733.8" cy="227.0" r="8.2"/>
<circle cx="755.5" cy="311.6" r="8.2"/>
<circle cx="424.2" cy="431.0" r="8.2"/>
<circle cx="458.8" cy="442.6" r="8.2"/>
<circle cx="486.2" cy="431.0" r="8.2"/>
<circle cx="621.8" cy="419.5" r="8.2"/>
</g>
<g stroke="#111111" stroke-width="2" fill="none">
<line x1="103.5" y1="22.00" x2="103.5" y2="518.00"/>
<line x1="102.5" y1="517.00" x2="1000" y2="517.00"/>
<line x1="93" y1="500.30" x2="103.5" y2="500.30"/>
<line x1="93" y1="423.30" x2="103.5" y2="423.30"/>
<line x1="93" y1="346.30" x2="103.5" y2="346.30"/>
<line x1="93" y1="269.30" x2="103.5" y2="269.30"/>
<line x1="93" y1="192.30" x2="103.5" y2="192.30"/>
<line x1="93" y1="115.30" x2="103.5" y2="115.30"/>
<line x1="93" y1="38.30" x2="103.5" y2="38.30"/>
<line x1="197.00" y1="517.00" x2="197.00" y2="527.00"/>
<line x1="263.54" y1="517.00" x2="263.54" y2="527.00"/>
<line x1="296.81" y1="517.00" x2="296.81" y2="527.00"/>
<line x1="346.72" y1="517.00" x2="346.72" y2="527.00"/>
<line x1="562.97" y1="517.00" x2="562.97" y2="527.00"/>
<line x1="729.32" y1="517.00" x2="729.32" y2="527.00"/>
</g>
<g font-family='"Liberation Sans", sans-serif' font-size="26" fill="#111111" stroke="#111111" stroke-width="0.35">
<text x="87" y="510.00" text-anchor="end">4</text>
<text x="87" y="433.00" text-anchor="end">6</text>
<text x="87" y="356.00" text-anchor="end">8</text>
<text x="87" y="279.00" text-anchor="end">10</text>
<text x="87" y="202.00" text-anchor="end">12</text>
<text x="87" y="125.00" text-anchor="end">14</text>
<text x="87" y="48.00" text-anchor="end">16</text>
<text transform="translate(204.50,539.20) rotate(-45)" text-anchor="end">14</text>
<text transform="translate(271.04,539.20) rotate(-45)" text-anchor="end">16</text>
<text transform="translate(304.31,539.20) rotate(-45)" text-anchor="end">17</text>
<text transform="translate(354.22,539.20) rotate(-45)" text-anchor="end">18.5</text>
<text transform="translate(570.47,539.20) rotate(-45)" text-anchor="end">25</text>
<text transform="translate(736.82,539.20) rotate(-45)" text-anchor="end">30</text>
<text transform="translate(40.6,270.20) rotate(-90)" text-anchor="middle" font-size="26.4">HbA1C %</text>
<text x="551.5" y="608" text-anchor="middle" font-size="26.4">Body mass index: all</text>
</g>
<text transform="translate(-2.0,28.8) scale(0.945,1)" font-family='"Liberation Sans", sans-serif' font-size="43.6" fill="#111111" stroke="#111111" stroke-width="0.5">A.</text>
</g>
<g id="panelB">
<line x1="104" y1="1176.30" x2="1000" y2="1176.30" stroke="#e9f2f3" stroke-width="3.2"/>
<line x1="104" y1="1099.10" x2="1000" y2="1099.10" stroke="#e9f2f3" stroke-width="3.2"/>
<line x1="104" y1="1021.90" x2="1000" y2="1021.90" stroke="#e9f2f3" stroke-width="3.2"/>
<line x1="104" y1="944.70" x2="1000" y2="944.70" stroke="#e9f2f3" stroke-width="3.2"/>
<line x1="104" y1="867.50" x2="1000" y2="867.50" stroke="#e9f2f3" stroke-width="3.2"/>
<line x1="104" y1="790.30" x2="1000" y2="790.30" stroke="#e9f2f3" stroke-width="3.2"/>
<line x1="187.30" y1="1192.80" x2="187.30" y2="702.50" stroke="#333333" stroke-width="3.3" stroke-dasharray="15 7.62"/>
<line x1="254.64" y1="1192.80" x2="254.64" y2="702.50" stroke="#333333" stroke-width="3.3" stroke-dasharray="15 7.62"/>
<line x1="288.31" y1="1192.80" x2="288.31" y2="702.50" stroke="#333333" stroke-width="3.3" stroke-dasharray="15 7.62"/>
<line x1="338.82" y1="1192.80" x2="338.82" y2="702.50" stroke="#333333" stroke-width="3.3" stroke-dasharray="15 7.62"/>
<line x1="557.67" y1="1192.80" x2="557.67" y2="702.50" stroke="#333333" stroke-width="3.3" stroke-dasharray="15 7.62"/>
<line x1="726.02" y1="1192.80" x2="726.02" y2="702.50" stroke="#333333" stroke-width="3.3" stroke-dasharray="15 7.62"/>
<line x1="103.5" y1="1079.80" x2="1000" y2="1079.80" stroke="#333333" stroke-width="3.3" stroke-dasharray="15 7.62"/>
<g fill="#b3b3b3">
<circle cx="120.0" cy="1083.2" r="8.2"/>
<circle cx="123.8" cy="1141.2" r="8.2"/>
<circle cx="172.0" cy="1152.5" r="8.2"/>
<circle cx="183.8" cy="1148.8" r="8.2"/>
<circle cx="180.0" cy="1114.2" r="8.2"/>
<circle cx="188.0" cy="1110.0" r="8.2"/>
<circle cx="181.2" cy="1129.5" r="8.2"/>
<circle cx="192.5" cy="1125.8" r="8.2"/>
<circle cx="187.5" cy="1132.5" r="8.2"/>
<circle cx="201.2" cy="1137.5" r="8.2"/>
<circle cx="211.8" cy="1110.2" r="8.2"/>
<circle cx="217.5" cy="1135.0" r="8.2"/>
<circle cx="223.0" cy="1098.8" r="8.2"/>
<circle cx="230.0" cy="1152.5" r="8.2"/>
<circle cx="247.5" cy="1152.5" r="8.2"/>
<circle cx="235.0" cy="1098.8" r="8.2"/>
<circle cx="252.5" cy="1095.0" r="8.2"/>
<circle cx="262.5" cy="1098.8" r="8.2"/>
<circle cx="285.0" cy="1168.0" r="8.2"/>
<circle cx="305.0" cy="1087.0" r="8.2"/>
<circle cx="322.5" cy="1091.0" r="8.2"/>
<circle cx="290.0" cy="1095.0" r="8.2"/>
<circle cx="282.5" cy="1101.2" r="8.2"/>
<circle cx="265.0" cy="1148.8" r="8.2"/>
<circle cx="292.5" cy="1152.5" r="8.2"/>
<circle cx="321.2" cy="1156.2" r="8.2"/>
<circle cx="337.5" cy="1156.2" r="8.2"/>
<circle cx="341.2" cy="1098.8" r="8.2"/>
<circle cx="350.0" cy="1105.0" r="8.2"/>
<circle cx="272.5" cy="1107.5" r="8.2"/>
<circle cx="300.0" cy="1098.8" r="8.2"/>
<circle cx="312.5" cy="1110.0" r="8.2"/>
<circle cx="237.5" cy="1135.0" r="8.2"/>
<circle cx="255.0" cy="1125.0" r="8.2"/>
<circle cx="275.0" cy="1142.5" r="8.2"/>
<circle cx="305.0" cy="1145.0" r="8.2"/>
<circle cx="225.0" cy="1125.0" r="8.2"/>
<circle cx="235.0" cy="1125.0" r="8.2"/>
<circle cx="245.0" cy="1122.5" r="8.2"/>
<circle cx="230.0" cy="1112.5" r="8.2"/>
<circle cx="250.0" cy="1110.0" r="8.2"/>
<circle cx="270.0" cy="1117.5" r="8.2"/>
<circle cx="272.5" cy="1132.5" r="8.2"/>
<circle cx="260.0" cy="1135.0" r="8.2"/>
<circle cx="247.5" cy="1132.5" r="8.2"/>
<circle cx="262.5" cy="1122.5" r="8.2"/>
<circle cx="225.0" cy="1132.5" r="8.2"/>
<circle cx="257.5" cy="1093.8" r="8.2"/>
<circle cx="265.0" cy="1098.8" r="8.2"/>
<circle cx="282.5" cy="1100.0" r="8.2"/>
<circle cx="291.2" cy="1096.2" r="8.2"/>
<circle cx="305.0" cy="1087.5" r="8.2"/>
<circle cx="322.5" cy="1091.2" r="8.2"/>
<circle cx="341.2" cy="1098.8" r="8.2"/>
<circle cx="362.5" cy="1097.5" r="8.2"/>
<circle cx="367.5" cy="1087.5" r="8.2"/>
<circle cx="391.2" cy="1102.5" r="8.2"/>
<circle cx="410.0" cy="1098.8" r="8.2"/>
<circle cx="423.8" cy="1095.0" r="8.2"/>
<circle cx="443.8" cy="1091.2" r="8.2"/>
<circle cx="453.8" cy="1098.8" r="8.2"/>
<circle cx="465.0" cy="1106.2" r="8.2"/>
<circle cx="478.8" cy="1087.5" r="8.2"/>
<circle cx="490.0" cy="1095.0" r="8.2"/>
<circle cx="500.0" cy="1087.5" r="8.2"/>
<circle cx="250.0" cy="1152.5" r="8.2"/>
<circle cx="266.2" cy="1148.8" r="8.2"/>
<circle cx="285.0" cy="1167.0" r="8.2"/>
<circle cx="292.5" cy="1152.5" r="8.2"/>
<circle cx="321.2" cy="1156.2" r="8.2"/>
<circle cx="337.5" cy="1156.2" r="8.2"/>
<circle cx="363.8" cy="1156.2" r="8.2"/>
<circle cx="377.5" cy="1158.8" r="8.2"/>
<circle cx="391.2" cy="1163.8" r="8.2"/>
<circle cx="388.8" cy="1152.5" r="8.2"/>
<circle cx="416.2" cy="1163.8" r="8.2"/>
<circle cx="412.5" cy="1148.8" r="8.2"/>
<circle cx="442.5" cy="1158.8" r="8.2"/>
<circle cx="465.0" cy="1152.5" r="8.2"/>
<circle cx="462.5" cy="1160.0" r="8.2"/>
<circle cx="488.8" cy="1160.0" r="8.2"/>
<circle cx="480.0" cy="1136.2" r="8.2"/>
<circle cx="492.5" cy="1132.5" r="8.2"/>
<circle cx="500.0" cy="1130.0" r="8.2"/>
<circle cx="498.8" cy="1087.5" r="8.2"/>
<circle cx="480.0" cy="1087.5" r="8.2"/>
<circle cx="492.5" cy="1098.8" r="8.2"/>
<circle cx="520.0" cy="1091.2" r="8.2"/>
<circle cx="512.5" cy="1096.2" r="8.2"/>
<circle cx="542.5" cy="1087.5" r="8.2"/>
<circle cx="555.0" cy="1091.2" r="8.2"/>
<circle cx="537.5" cy="1095.0" r="8.2"/>
<circle cx="507.5" cy="1106.2" r="8.2"/>
<circle cx="537.5" cy="1106.2" r="8.2"/>
<circle cx="533.8" cy="1111.2" r="8.2"/>
<circle cx="552.5" cy="1110.0" r="8.2"/>
<circle cx="566.2" cy="1110.0" r="8.2"/>
<circle cx="527.5" cy="1117.5" r="8.2"/>
<circle cx="532.5" cy="1121.2" r="8.2"/>
<circle cx="510.0" cy="1122.5" r="8.2"/>
<circle cx="555.0" cy="1121.2" r="8.2"/>
<circle cx="568.8" cy="1125.0" r="8.2"/>
<circle cx="585.0" cy="1121.8" r="8.2"/>
<circle cx="552.5" cy="1133.8" r="8.2"/>
<circle cx="522.5" cy="1130.0" r="8.2"/>
<circle cx="507.5" cy="1135.0" r="8.2"/>
<circle cx="490.0" cy="1130.0" r="8.2"/>
<circle cx="480.0" cy="1136.2" r="8.2"/>
<circle cx="512.5" cy="1151.2" r="8.2"/>
<circle cx="525.0" cy="1152.5" r="8.2"/>
<circle cx="551.2" cy="1149.2" r="8.2"/>
<circle cx="488.8" cy="1160.0" r="8.2"/>
<circle cx="588.8" cy="1141.2" r="8.2"/>
<circle cx="597.5" cy="1145.0" r="8.2"/>
<circle cx="600.0" cy="1087.5" r="8.2"/>
<circle cx="622.0" cy="1091.2" r="8.2"/>
<circle cx="631.2" cy="1098.8" r="8.2"/>
<circle cx="607.0" cy="1106.2" r="8.2"/>
<circle cx="633.0" cy="1111.2" r="8.2"/>
<circle cx="633.0" cy="1118.0" r="8.2"/>
<circle cx="612.5" cy="1118.0" r="8.2"/>
<circle cx="606.2" cy="1121.8" r="8.2"/>
<circle cx="651.2" cy="1114.2" r="8.2"/>
<circle cx="641.2" cy="1137.5" r="8.2"/>
<circle cx="652.5" cy="1137.5" r="8.2"/>
<circle cx="674.2" cy="1141.2" r="8.2"/>
<circle cx="495.0" cy="1120.0" r="8.2"/>
<circle cx="485.0" cy="1117.5" r="8.2"/>
<circle cx="515.0" cy="1125.0" r="8.2"/>
<circle cx="500.0" cy="1135.0" r="8.2"/>
<circle cx="480.0" cy="1125.0" r="8.2"/>
<circle cx="780.2" cy="1095.0" r="8.2"/>
<circle cx="769.2" cy="1149.2" r="8.2"/>
<circle cx="983.2" cy="1145.0" r="8.2"/>
<circle cx="324.0" cy="1149.3" r="8.2"/>
<circle cx="328.5" cy="1149.3" r="8.2"/>
<circle cx="335.9" cy="1149.3" r="8.2"/>
<circle cx="340.5" cy="1149.3" r="8.2"/>
<circle cx="347.2" cy="1149.3" r="8.2"/>
<circle cx="351.8" cy="1149.3" r="8.2"/>
<circle cx="358.1" cy="1149.3" r="8.2"/>
<circle cx="363.1" cy="1149.3" r="8.2"/>
<circle cx="367.0" cy="1149.3" r="8.2"/>
<circle cx="373.1" cy="1149.3" r="8.2"/>
<circle cx="433.6" cy="1149.3" r="8.2"/>
<circle cx="439.5" cy="1149.3" r="8.2"/>
<circle cx="444.3" cy="1149.3" r="8.2"/>
<circle cx="449.8" cy="1149.3" r="8.2"/>
<circle cx="457.8" cy="1149.3" r="8.2"/>
<circle cx="317.9" cy="1145.4" r="8.2"/>
<circle cx="322.5" cy="1145.4" r="8.2"/>
<circle cx="327.6" cy="1145.4" r="8.2"/>
<circle cx="332.2" cy="1145.4" r="8.2"/>
<circle cx="338.7" cy="1145.4" r="8.2"/>
<circle cx="344.5" cy="1145.4" r="8.2"/>
<circle cx="349.4" cy="1145.4" r="8.2"/>
<circle cx="355.6" cy="1145.4" r="8.2"/>
<circle cx="358.6" cy="1145.4" r="8.2"/>
<circle cx="366.1" cy="1145.4" r="8.2"/>
<circle cx="370.1" cy="1145.4" r="8.2"/>
<circle cx="375.0" cy="1145.4" r="8.2"/>
<circle cx="377.9" cy="1145.4" r="8.2"/>
<circle cx="386.8" cy="1145.4" r="8.2"/>
<circle cx="391.6" cy="1145.4" r="8.2"/>
<circle cx="396.9" cy="1145.4" r="8.2"/>
<circle cx="402.6" cy="1145.4" r="8.2"/>
<circle cx="408.6" cy="1145.4" r="8.2"/>
<circle cx="414.1" cy="1145.4" r="8.2"/>
<circle cx="418.1" cy="1145.4" r="8.2"/>
<circle cx="422.3" cy="1145.4" r="8.2"/>
<circle cx="427.6" cy="1145.4" r="8.2"/>
<circle cx="434.0" cy="1145.4" r="8.2"/>
<circle cx="441.9" cy="1145.4" r="8.2"/>
<circle cx="445.4" cy="1145.4" r="8.2"/>
<circle cx="449.4" cy="1145.4" r="8.2"/>
<circle cx="456.6" cy="1145.4" r="8.2"/>
<circle cx="463.2" cy="1145.4" r="8.2"/>
<circle cx="291.5" cy="1141.6" r="8.2"/>
<circle cx="299.5" cy="1141.6" r="8.2"/>
<circle cx="304.0" cy="1141.6" r="8.2"/>
<circle cx="311.9" cy="1141.6" r="8.2"/>
<circle cx="318.5" cy="1141.6" r="8.2"/>
<circle cx="320.7" cy="1141.6" r="8.2"/>
<circle cx="328.9" cy="1141.6" r="8.2"/>
<circle cx="333.4" cy="1141.6" r="8.2"/>
<circle cx="340.2" cy="1141.6" r="8.2"/>
<circle cx="343.5" cy="1141.6" r="8.2"/>
<circle cx="347.8" cy="1141.6" r="8.2"/>
<circle cx="353.3" cy="1141.6" r="8.2"/>
<circle cx="358.0" cy="1141.6" r="8.2"/>
<circle cx="363.7" cy="1141.6" r="8.2"/>
<circle cx="370.3" cy="1141.6" r="8.2"/>
<circle cx="376.2" cy="1141.6" r="8.2"/>
<circle cx="380.9" cy="1141.6" r="8.2"/>
<circle cx="387.3" cy="1141.6" r="8.2"/>
<circle cx="390.7" cy="1141.6" r="8.2"/>
<circle cx="396.2" cy="1141.6" r="8.2"/>
<circle cx="402.0" cy="1141.6" r="8.2"/>
<circle cx="406.6" cy="1141.6" r="8.2"/>
<circle cx="413.4" cy="1141.6" r="8.2"/>
<circle cx="418.5" cy="1141.6" r="8.2"/>
<circle cx="423.0" cy="1141.6" r="8.2"/>
<circle cx="430.3" cy="1141.6" r="8.2"/>
<circle cx="435.5" cy="1141.6" r="8.2"/>
<circle cx="439.2" cy="1141.6" r="8.2"/>
<circle cx="443.3" cy="1141.6" r="8.2"/>
<circle cx="450.0" cy="1141.6" r="8.2"/>
<circle cx="454.9" cy="1141.6" r="8.2"/>
<circle cx="460.8" cy="1141.6" r="8.2"/>
<circle cx="465.3" cy="1141.6" r="8.2"/>
<circle cx="469.3" cy="1141.6" r="8.2"/>
<circle cx="288.4" cy="1137.7" r="8.2"/>
<circle cx="293.0" cy="1137.7" r="8.2"/>
<circle cx="299.8" cy="1137.7" r="8.2"/>
<circle cx="303.6" cy="1137.7" r="8.2"/>
<circle cx="309.1" cy="1137.7" r="8.2"/>
<circle cx="312.7" cy="1137.7" r="8.2"/>
<circle cx="316.1" cy="1137.7" r="8.2"/>
<circle cx="321.8" cy="1137.7" r="8.2"/>
<circle cx="325.8" cy="1137.7" r="8.2"/>
<circle cx="332.9" cy="1137.7" r="8.2"/>
<circle cx="336.7" cy="1137.7" r="8.2"/>
<circle cx="340.2" cy="1137.7" r="8.2"/>
<circle cx="347.8" cy="1137.7" r="8.2"/>
<circle cx="350.8" cy="1137.7" r="8.2"/>
<circle cx="356.4" cy="1137.7" r="8.2"/>
<circle cx="361.0" cy="1137.7" r="8.2"/>
<circle cx="366.5" cy="1137.7" r="8.2"/>
<circle cx="373.1" cy="1137.7" r="8.2"/>
<circle cx="377.4" cy="1137.7" r="8.2"/>
<circle cx="382.8" cy="1137.7" r="8.2"/>
<circle cx="388.0" cy="1137.7" r="8.2"/>
<circle cx="392.4" cy="1137.7" r="8.2"/>
<circle cx="397.5" cy="1137.7" r="8.2"/>
<circle cx="403.3" cy="1137.7" r="8.2"/>
<circle cx="408.3" cy="1137.7" r="8.2"/>
<circle cx="413.6" cy="1137.7" r="8.2"/>
<circle cx="416.8" cy="1137.7" r="8.2"/>
<circle cx="423.7" cy="1137.7" r="8.2"/>
<circle cx="428.2" cy="1137.7" r="8.2"/>
<circle cx="433.1" cy="1137.7" r="8.2"/>
<circle cx="439.7" cy="1137.7" r="8.2"/>
<circle cx="444.5" cy="1137.7" r="8.2"/>
<circle cx="452.3" cy="1137.7" r="8.2"/>
<circle cx="457.7" cy="1137.7" r="8.2"/>
<circle cx="464.0" cy="1137.7" r="8.2"/>
<circle cx="469.5" cy="1137.7" r="8.2"/>
<circle cx="280.9" cy="1133.8" r="8.2"/>
<circle cx="288.3" cy="1133.8" r="8.2"/>
<circle cx="292.6" cy="1133.8" r="8.2"/>
<circle cx="299.0" cy="1133.8" r="8.2"/>
<circle cx="301.4" cy="1133.8" r="8.2"/>
<circle cx="307.7" cy="1133.8" r="8.2"/>
<circle cx="312.8" cy="1133.8" r="8.2"/>
<circle cx="318.3" cy="1133.8" r="8.2"/>
<circle cx="323.4" cy="1133.8" r="8.2"/>
<circle cx="331.5" cy="1133.8" r="8.2"/>
<circle cx="334.2" cy="1133.8" r="8.2"/>
<circle cx="340.6" cy="1133.8" r="8.2"/>
<circle cx="344.5" cy="1133.8" r="8.2"/>
<circle cx="349.8" cy="1133.8" r="8.2"/>
<circle cx="357.3" cy="1133.8" r="8.2"/>
<circle cx="361.0" cy="1133.8" r="8.2"/>
<circle cx="366.3" cy="1133.8" r="8.2"/>
<circle cx="374.6" cy="1133.8" r="8.2"/>
<circle cx="378.5" cy="1133.8" r="8.2"/>
<circle cx="385.3" cy="1133.8" r="8.2"/>
<circle cx="391.5" cy="1133.8" r="8.2"/>
<circle cx="396.4" cy="1133.8" r="8.2"/>
<circle cx="401.1" cy="1133.8" r="8.2"/>
<circle cx="408.0" cy="1133.8" r="8.2"/>
<circle cx="414.2" cy="1133.8" r="8.2"/>
<circle cx="420.5" cy="1133.8" r="8.2"/>
<circle cx="423.9" cy="1133.8" r="8.2"/>
<circle cx="431.7" cy="1133.8" r="8.2"/>
<circle cx="435.3" cy="1133.8" r="8.2"/>
<circle cx="441.0" cy="1133.8" r="8.2"/>
<circle cx="445.9" cy="1133.8" r="8.2"/>
<circle cx="452.2" cy="1133.8" r="8.2"/>
<circle cx="455.4" cy="1133.8" r="8.2"/>
<circle cx="463.9" cy="1133.8" r="8.2"/>
<circle cx="470.3" cy="1133.8" r="8.2"/>
<circle cx="477.4" cy="1133.8" r="8.2"/>
<circle cx="276.5" cy="1130.0" r="8.2"/>
<circle cx="283.7" cy="1130.0" r="8.2"/>
<circle cx="287.9" cy="1130.0" r="8.2"/>
<circle cx="293.9" cy="1130.0" r="8.2"/>
<circle cx="300.5" cy="1130.0" r="8.2"/>
<circle cx="306.2" cy="1130.0" r="8.2"/>
<circle cx="310.5" cy="1130.0" r="8.2"/>
<circle cx="317.1" cy="1130.0" r="8.2"/>
<circle cx="321.8" cy="1130.0" r="8.2"/>
<circle cx="326.7" cy="1130.0" r="8.2"/>
<circle cx="331.0" cy="1130.0" r="8.2"/>
<circle cx="336.5" cy="1130.0" r="8.2"/>
<circle cx="341.0" cy="1130.0" r="8.2"/>
<circle cx="346.0" cy="1130.0" r="8.2"/>
<circle cx="352.7" cy="1130.0" r="8.2"/>
<circle cx="358.5" cy="1130.0" r="8.2"/>
<circle cx="363.2" cy="1130.0" r="8.2"/>
<circle cx="368.2" cy="1130.0" r="8.2"/>
<circle cx="373.9" cy="1130.0" r="8.2"/>
<circle cx="378.3" cy="1130.0" r="8.2"/>
<circle cx="383.6" cy="1130.0" r="8.2"/>
<circle cx="388.9" cy="1130.0" r="8.2"/>
<circle cx="392.4" cy="1130.0" r="8.2"/>
<circle cx="398.7" cy="1130.0" r="8.2"/>
<circle cx="405.0" cy="1130.0" r="8.2"/>
<circle cx="411.0" cy="1130.0" r="8.2"/>
<circle cx="415.4" cy="1130.0" r="8.2"/>
<circle cx="418.2" cy="1130.0" r="8.2"/>
<circle cx="425.7" cy="1130.0" r="8.2"/>
<circle cx="429.7" cy="1130.0" r="8.2"/>
<circle cx="435.9" cy="1130.0" r="8.2"/>
<circle cx="439.0" cy="1130.0" r="8.2"/>
<circle cx="447.1" cy="1130.0" r="8.2"/>
<circle cx="450.6" cy="1130.0" r="8.2"/>
<circle cx="456.5" cy="1130.0" r="8.2"/>
<circle cx="462.7" cy="1130.0" r="8.2"/>
<circle cx="468.4" cy="1130.0" r="8.2"/>
<circle cx="475.2" cy="1130.0" r="8.2"/>
<circle cx="480.8" cy="1130.0" r="8.2"/>
<circle cx="280.3" cy="1126.1" r="8.2"/>
<circle cx="288.0" cy="1126.1" r="8.2"/>
<circle cx="294.4" cy="1126.1" r="8.2"/>
<circle cx="298.8" cy="1126.1" r="8.2"/>
<circle cx="306.2" cy="1126.1" r="8.2"/>
<circle cx="310.9" cy="1126.1" r="8.2"/>
<circle cx="316.4" cy="1126.1" r="8.2"/>
<circle cx="322.2" cy="1126.1" r="8.2"/>
<circle cx="328.0" cy="1126.1" r="8.2"/>
<circle cx="332.6" cy="1126.1" r="8.2"/>
<circle cx="340.2" cy="1126.1" r="8.2"/>
<circle cx="344.7" cy="1126.1" r="8.2"/>
<circle cx="348.9" cy="1126.1" r="8.2"/>
<circle cx="354.0" cy="1126.1" r="8.2"/>
<circle cx="358.6" cy="1126.1" r="8.2"/>
<circle cx="365.9" cy="1126.1" r="8.2"/>
<circle cx="373.7" cy="1126.1" r="8.2"/>
<circle cx="379.0" cy="1126.1" r="8.2"/>
<circle cx="386.0" cy="1126.1" r="8.2"/>
<circle cx="388.0" cy="1126.1" r="8.2"/>
<circle cx="394.8" cy="1126.1" r="8.2"/>
<circle cx="402.2" cy="1126.1" r="8.2"/>
<circle cx="408.3" cy="1126.1" r="8.2"/>
<circle cx="412.7" cy="1126.1" r="8.2"/>
<circle cx="418.5" cy="1126.1" r="8.2"/>
<circle cx="424.0" cy="1126.1" r="8.2"/>
<circle cx="429.9" cy="1126.1" r="8.2"/>
<circle cx="435.0" cy="1126.1" r="8.2"/>
<circle cx="438.9" cy="1126.1" r="8.2"/>
<circle cx="444.5" cy="1126.1" r="8.2"/>
<circle cx="451.0" cy="1126.1" r="8.2"/>
<circle cx="457.0" cy="1126.1" r="8.2"/>
<circle cx="462.6" cy="1126.1" r="8.2"/>
<circle cx="468.9" cy="1126.1" r="8.2"/>
<circle cx="475.7" cy="1126.1" r="8.2"/>
<circle cx="479.0" cy="1126.1" r="8.2"/>
<circle cx="487.1" cy="1126.1" r="8.2"/>
<circle cx="491.0" cy="1126.1" r="8.2"/>
<circle cx="277.9" cy="1122.3" r="8.2"/>
<circle cx="285.0" cy="1122.3" r="8.2"/>
<circle cx="288.5" cy="1122.3" r="8.2"/>
<circle cx="294.2" cy="1122.3" r="8.2"/>
<circle cx="299.0" cy="1122.3" r="8.2"/>
<circle cx="304.6" cy="1122.3" r="8.2"/>
<circle cx="309.7" cy="1122.3" r="8.2"/>
<circle cx="317.4" cy="1122.3" r="8.2"/>
<circle cx="321.0" cy="1122.3" r="8.2"/>
<circle cx="327.1" cy="1122.3" r="8.2"/>
<circle cx="332.4" cy="1122.3" r="8.2"/>
<circle cx="339.4" cy="1122.3" r="8.2"/>
<circle cx="344.7" cy="1122.3" r="8.2"/>
<circle cx="348.9" cy="1122.3" r="8.2"/>
<circle cx="354.0" cy="1122.3" r="8.2"/>
<circle cx="360.6" cy="1122.3" r="8.2"/>
<circle cx="367.7" cy="1122.3" r="8.2"/>
<circle cx="371.8" cy="1122.3" r="8.2"/>
<circle cx="377.8" cy="1122.3" r="8.2"/>
<circle cx="380.5" cy="1122.3" r="8.2"/>
<circle cx="386.1" cy="1122.3" r="8.2"/>
<circle cx="392.7" cy="1122.3" r="8.2"/>
<circle cx="397.8" cy="1122.3" r="8.2"/>
<circle cx="403.6" cy="1122.3" r="8.2"/>
<circle cx="408.4" cy="1122.3" r="8.2"/>
<circle cx="412.2" cy="1122.3" r="8.2"/>
<circle cx="416.8" cy="1122.3" r="8.2"/>
<circle cx="424.7" cy="1122.3" r="8.2"/>
<circle cx="429.4" cy="1122.3" r="8.2"/>
<circle cx="433.6" cy="1122.3" r="8.2"/>
<circle cx="441.5" cy="1122.3" r="8.2"/>
<circle cx="448.1" cy="1122.3" r="8.2"/>
<circle cx="453.5" cy="1122.3" r="8.2"/>
<circle cx="459.3" cy="1122.3" r="8.2"/>
<circle cx="464.3" cy="1122.3" r="8.2"/>
<circle cx="472.2" cy="1122.3" r="8.2"/>
<circle cx="476.6" cy="1122.3" r="8.2"/>
<circle cx="483.3" cy="1122.3" r="8.2"/>
<circle cx="489.5" cy="1122.3" r="8.2"/>
<circle cx="281.4" cy="1118.4" r="8.2"/>
<circle cx="288.5" cy="1118.4" r="8.2"/>
<circle cx="294.3" cy="1118.4" r="8.2"/>
<circle cx="299.1" cy="1118.4" r="8.2"/>
<circle cx="305.1" cy="1118.4" r="8.2"/>
<circle cx="309.0" cy="1118.4" r="8.2"/>
<circle cx="313.3" cy="1118.4" r="8.2"/>
<circle cx="318.1" cy="1118.4" r="8.2"/>
<circle cx="321.6" cy="1118.4" r="8.2"/>
<circle cx="328.7" cy="1118.4" r="8.2"/>
<circle cx="333.0" cy="1118.4" r="8.2"/>
<circle cx="338.0" cy="1118.4" r="8.2"/>
<circle cx="343.1" cy="1118.4" r="8.2"/>
<circle cx="346.9" cy="1118.4" r="8.2"/>
<circle cx="352.9" cy="1118.4" r="8.2"/>
<circle cx="359.5" cy="1118.4" r="8.2"/>
<circle cx="362.9" cy="1118.4" r="8.2"/>
<circle cx="370.3" cy="1118.4" r="8.2"/>
<circle cx="373.7" cy="1118.4" r="8.2"/>
<circle cx="379.9" cy="1118.4" r="8.2"/>
<circle cx="386.4" cy="1118.4" r="8.2"/>
<circle cx="393.9" cy="1118.4" r="8.2"/>
<circle cx="398.5" cy="1118.4" r="8.2"/>
<circle cx="403.5" cy="1118.4" r="8.2"/>
<circle cx="408.7" cy="1118.4" r="8.2"/>
<circle cx="413.2" cy="1118.4" r="8.2"/>
<circle cx="418.5" cy="1118.4" r="8.2"/>
<circle cx="423.8" cy="1118.4" r="8.2"/>
<circle cx="427.3" cy="1118.4" r="8.2"/>
<circle cx="432.4" cy="1118.4" r="8.2"/>
<circle cx="438.9" cy="1118.4" r="8.2"/>
<circle cx="445.4" cy="1118.4" r="8.2"/>
<circle cx="449.9" cy="1118.4" r="8.2"/>
<circle cx="453.6" cy="1118.4" r="8.2"/>
<circle cx="460.5" cy="1118.4" r="8.2"/>
<circle cx="466.0" cy="1118.4" r="8.2"/>
<circle cx="472.3" cy="1118.4" r="8.2"/>
<circle cx="477.6" cy="1118.4" r="8.2"/>
<circle cx="481.9" cy="1118.4" r="8.2"/>
<circle cx="486.1" cy="1118.4" r="8.2"/>
<circle cx="492.6" cy="1118.4" r="8.2"/>
<circle cx="311.3" cy="1114.5" r="8.2"/>
<circle cx="316.5" cy="1114.5" r="8.2"/>
<circle cx="322.5" cy="1114.5" r="8.2"/>
<circle cx="327.6" cy="1114.5" r="8.2"/>
<circle cx="334.4" cy="1114.5" r="8.2"/>
<circle cx="339.8" cy="1114.5" r="8.2"/>
<circle cx="345.9" cy="1114.5" r="8.2"/>
<circle cx="351.7" cy="1114.5" r="8.2"/>
<circle cx="354.2" cy="1114.5" r="8.2"/>
<circle cx="359.0" cy="1114.5" r="8.2"/>
<circle cx="364.4" cy="1114.5" r="8.2"/>
<circle cx="368.3" cy="1114.5" r="8.2"/>
<circle cx="373.9" cy="1114.5" r="8.2"/>
<circle cx="381.4" cy="1114.5" r="8.2"/>
<circle cx="386.8" cy="1114.5" r="8.2"/>
<circle cx="393.1" cy="1114.5" r="8.2"/>
<circle cx="396.5" cy="1114.5" r="8.2"/>
<circle cx="404.9" cy="1114.5" r="8.2"/>
<circle cx="408.0" cy="1114.5" r="8.2"/>
<circle cx="415.9" cy="1114.5" r="8.2"/>
<circle cx="419.2" cy="1114.5" r="8.2"/>
<circle cx="424.8" cy="1114.5" r="8.2"/>
<circle cx="429.7" cy="1114.5" r="8.2"/>
<circle cx="434.0" cy="1114.5" r="8.2"/>
<circle cx="440.8" cy="1114.5" r="8.2"/>
<circle cx="448.1" cy="1114.5" r="8.2"/>
<circle cx="451.2" cy="1114.5" r="8.2"/>
<circle cx="458.8" cy="1114.5" r="8.2"/>
<circle cx="466.3" cy="1114.5" r="8.2"/>
<circle cx="472.8" cy="1114.5" r="8.2"/>
<circle cx="477.8" cy="1114.5" r="8.2"/>
<circle cx="482.5" cy="1114.5" r="8.2"/>
<circle cx="487.4" cy="1114.5" r="8.2"/>
<circle cx="321.1" cy="1110.7" r="8.2"/>
<circle cx="324.7" cy="1110.7" r="8.2"/>
<circle cx="330.6" cy="1110.7" r="8.2"/>
<circle cx="335.0" cy="1110.7" r="8.2"/>
<circle cx="340.4" cy="1110.7" r="8.2"/>
<circle cx="345.3" cy="1110.7" r="8.2"/>
<circle cx="350.6" cy="1110.7" r="8.2"/>
<circle cx="357.0" cy="1110.7" r="8.2"/>
<circle cx="360.5" cy="1110.7" r="8.2"/>
<circle cx="366.8" cy="1110.7" r="8.2"/>
<circle cx="372.9" cy="1110.7" r="8.2"/>
<circle cx="379.9" cy="1110.7" r="8.2"/>
<circle cx="385.3" cy="1110.7" r="8.2"/>
<circle cx="392.3" cy="1110.7" r="8.2"/>
<circle cx="398.1" cy="1110.7" r="8.2"/>
<circle cx="403.0" cy="1110.7" r="8.2"/>
<circle cx="408.5" cy="1110.7" r="8.2"/>
<circle cx="412.4" cy="1110.7" r="8.2"/>
<circle cx="417.6" cy="1110.7" r="8.2"/>
<circle cx="424.3" cy="1110.7" r="8.2"/>
<circle cx="428.3" cy="1110.7" r="8.2"/>
<circle cx="433.8" cy="1110.7" r="8.2"/>
<circle cx="437.6" cy="1110.7" r="8.2"/>
<circle cx="443.8" cy="1110.7" r="8.2"/>
<circle cx="447.9" cy="1110.7" r="8.2"/>
<circle cx="456.2" cy="1110.7" r="8.2"/>
<circle cx="459.8" cy="1110.7" r="8.2"/>
<circle cx="470.8" cy="1110.7" r="8.2"/>
<circle cx="476.0" cy="1110.7" r="8.2"/>
<circle cx="484.3" cy="1110.7" r="8.2"/>
<circle cx="490.8" cy="1110.7" r="8.2"/>
<circle cx="329.3" cy="1106.8" r="8.2"/>
<circle cx="337.3" cy="1106.8" r="8.2"/>
<circle cx="342.3" cy="1106.8" r="8.2"/>
<circle cx="348.0" cy="1106.8" r="8.2"/>
<circle cx="351.9" cy="1106.8" r="8.2"/>
<circle cx="357.5" cy="1106.8" r="8.2"/>
<circle cx="363.7" cy="1106.8" r="8.2"/>
<circle cx="368.6" cy="1106.8" r="8.2"/>
<circle cx="375.1" cy="1106.8" r="8.2"/>
<circle cx="381.4" cy="1106.8" r="8.2"/>
<circle cx="397.5" cy="1106.8" r="8.2"/>
<circle cx="403.4" cy="1106.8" r="8.2"/>
<circle cx="407.9" cy="1106.8" r="8.2"/>
<circle cx="411.8" cy="1106.8" r="8.2"/>
<circle cx="417.8" cy="1106.8" r="8.2"/>
<circle cx="422.8" cy="1106.8" r="8.2"/>
<circle cx="428.1" cy="1106.8" r="8.2"/>
<circle cx="432.3" cy="1106.8" r="8.2"/>
<circle cx="438.8" cy="1106.8" r="8.2"/>
<circle cx="442.9" cy="1106.8" r="8.2"/>
<circle cx="449.4" cy="1106.8" r="8.2"/>
<circle cx="454.2" cy="1106.8" r="8.2"/>
<circle cx="478.3" cy="1106.8" r="8.2"/>
<circle cx="483.9" cy="1106.8" r="8.2"/>
<circle cx="489.3" cy="1106.8" r="8.2"/>
<circle cx="417.5" cy="1103.0" r="8.2"/>
<circle cx="422.4" cy="1103.0" r="8.2"/>
<circle cx="427.6" cy="1103.0" r="8.2"/>
<circle cx="432.9" cy="1103.0" r="8.2"/>
<circle cx="436.8" cy="1103.0" r="8.2"/>
<circle cx="444.3" cy="1103.0" r="8.2"/>
<circle cx="449.4" cy="1103.0" r="8.2"/>
<circle cx="483.9" cy="1103.0" r="8.2"/>
<circle cx="488.1" cy="1103.0" r="8.2"/>
<circle cx="492.8" cy="1103.0" r="8.2"/>
<circle cx="436.3" cy="1099.1" r="8.2"/>
<circle cx="443.8" cy="1099.1" r="8.2"/>
</g>
<g fill="#b9e1eb">
<circle cx="417.3" cy="871.4" r="8.2"/>
<circle cx="314.3" cy="890.7" r="8.2"/>
<circle cx="481.3" cy="871.4" r="8.2"/>
<circle cx="518.2" cy="913.8" r="8.2"/>
<circle cx="357.6" cy="1006.5" r="8.2"/>
<circle cx="420.1" cy="944.7" r="8.2"/>
<circle cx="453.5" cy="921.5" r="8.2"/>
<circle cx="447.1" cy="929.3" r="8.2"/>
<circle cx="432.5" cy="1060.5" r="8.2"/>
<circle cx="370.7" cy="1075.9" r="8.2"/>
</g>
<g fill="#4878ba">
<circle cx="386.9" cy="882.9" r="8.2"/>
<circle cx="444.9" cy="879.1" r="8.2"/>
<circle cx="398.1" cy="1018.0" r="8.2"/>
<circle cx="277.9" cy="1037.3" r="8.2"/>
<circle cx="428.2" cy="967.9" r="8.2"/>
<circle cx="431.5" cy="979.4" r="8.2"/>
<circle cx="468.9" cy="975.6" r="8.2"/>
<circle cx="378.6" cy="1091.4" r="8.2"/>
<circle cx="578.2" cy="994.9" r="8.2"/>
<circle cx="577.9" cy="1060.5" r="8.2"/>
<circle cx="730.5" cy="902.2" r="8.2"/>
<circle cx="417.3" cy="1106.8" r="8.2"/>
<circle cx="452.2" cy="1118.4" r="8.2"/>
<circle cx="480.0" cy="1106.8" r="8.2"/>
</g>
<g stroke="#111111" stroke-width="2" fill="none">
<line x1="103.5" y1="697.50" x2="103.5" y2="1193.80"/>
<line x1="102.5" y1="1192.80" x2="1000" y2="1192.80"/>
<line x1="93" y1="1176.30" x2="103.5" y2="1176.30"/>
<line x1="93" y1="1099.10" x2="103.5" y2="1099.10"/>
<line x1="93" y1="1021.90" x2="103.5" y2="1021.90"/>
<line x1="93" y1="944.70" x2="103.5" y2="944.70"/>
<line x1="93" y1="867.50" x2="103.5" y2="867.50"/>
<line x1="93" y1="790.30" x2="103.5" y2="790.30"/>
<line x1="93" y1="713.10" x2="103.5" y2="713.10"/>
<line x1="187.30" y1="1192.80" x2="187.30" y2="1202.80"/>
<line x1="254.64" y1="1192.80" x2="254.64" y2="1202.80"/>
<line x1="288.31" y1="1192.80" x2="288.31" y2="1202.80"/>
<line x1="338.82" y1="1192.80" x2="338.82" y2="1202.80"/>
<line x1="557.67" y1="1192.80" x2="557.67" y2="1202.80"/>
<line x1="726.02" y1="1192.80" x2="726.02" y2="1202.80"/>
</g>
<g font-family='"Liberation Sans", sans-serif' font-size="26" fill="#111111" stroke="#111111" stroke-width="0.35">
<text x="87" y="1186.00" text-anchor="end">4</text>
<text x="87" y="1108.80" text-anchor="end">6</text>
<text x="87" y="1031.60" text-anchor="end">8</text>
<text x="87" y="954.40" text-anchor="end">10</text>
<text x="87" y="877.20" text-anchor="end">12</text>
<text x="87" y="800.00" text-anchor="end">14</text>
<text x="87" y="722.80" text-anchor="end">16</text>
<text transform="translate(194.80,1215.00) rotate(-45)" text-anchor="end">14</text>
<text transform="translate(262.14,1215.00) rotate(-45)" text-anchor="end">16</text>
<text transform="translate(295.81,1215.00) rotate(-45)" text-anchor="end">17</text>
<text transform="translate(346.32,1215.00) rotate(-45)" text-anchor="end">18.5</text>
<text transform="translate(565.17,1215.00) rotate(-45)" text-anchor="end">25</text>
<text transform="translate(733.52,1215.00) rotate(-45)" text-anchor="end">30</text>
<text transform="translate(40.6,945.90) rotate(-90)" text-anchor="middle" font-size="26.4">HbA1C %</text>
<text x="551.5" y="1283.5" text-anchor="middle" font-size="26.4">Body mass index: Metro Manila</text>
</g>
<text transform="translate(-1.0,704.6) scale(0.945,1)" font-family='"Liberation Sans", sans-serif' font-size="43.6" fill="#111111" stroke="#111111" stroke-width="0.5">B.</text>
</g>
<g id="panelC">
<line x1="104" y1="1846.20" x2="1000" y2="1846.20" stroke="#e9f2f3" stroke-width="3.2"/>
<line x1="104" y1="1769.20" x2="1000" y2="1769.20" stroke="#e9f2f3" stroke-width="3.2"/>
<line x1="104" y1="1692.20" x2="1000" y2="1692.20" stroke="#e9f2f3" stroke-width="3.2"/>
<line x1="104" y1="1615.20" x2="1000" y2="1615.20" stroke="#e9f2f3" stroke-width="3.2"/>
<line x1="104" y1="1538.20" x2="1000" y2="1538.20" stroke="#e9f2f3" stroke-width="3.2"/>
<line x1="104" y1="1461.20" x2="1000" y2="1461.20" stroke="#e9f2f3" stroke-width="3.2"/>
<line x1="104" y1="1384.20" x2="1000" y2="1384.20" stroke="#e9f2f3" stroke-width="3.2"/>
<line x1="221.25" y1="1862.70" x2="221.25" y2="1373.00" stroke="#333333" stroke-width="3.3" stroke-dasharray="15 7.62"/>
<line x1="308.53" y1="1862.70" x2="308.53" y2="1373.00" stroke="#333333" stroke-width="3.3" stroke-dasharray="15 7.62"/>
<line x1="352.17" y1="1862.70" x2="352.17" y2="1373.00" stroke="#333333" stroke-width="3.3" stroke-dasharray="15 7.62"/>
<line x1="417.63" y1="1862.70" x2="417.63" y2="1373.00" stroke="#333333" stroke-width="3.3" stroke-dasharray="15 7.62"/>
<line x1="701.29" y1="1862.70" x2="701.29" y2="1373.00" stroke="#333333" stroke-width="3.3" stroke-dasharray="15 7.62"/>
<line x1="919.49" y1="1862.70" x2="919.49" y2="1373.00" stroke="#333333" stroke-width="3.3" stroke-dasharray="15 7.62"/>
<line x1="103.5" y1="1749.95" x2="1000" y2="1749.95" stroke="#333333" stroke-width="3.3" stroke-dasharray="15 7.62"/>
<g fill="#b3b3b3">
<circle cx="120.0" cy="1792.5" r="8.2"/>
<circle cx="162.5" cy="1788.8" r="8.2"/>
<circle cx="170.0" cy="1788.8" r="8.2"/>
<circle cx="183.8" cy="1753.8" r="8.2"/>
<circle cx="211.2" cy="1788.8" r="8.2"/>
<circle cx="232.5" cy="1784.5" r="8.2"/>
<circle cx="240.0" cy="1796.2" r="8.2"/>
<circle cx="238.2" cy="1811.8" r="8.2"/>
<circle cx="253.8" cy="1788.8" r="8.2"/>
<circle cx="256.2" cy="1796.2" r="8.2"/>
<circle cx="265.0" cy="1788.8" r="8.2"/>
<circle cx="262.5" cy="1807.5" r="8.2"/>
<circle cx="275.0" cy="1796.2" r="8.2"/>
<circle cx="277.0" cy="1777.0" r="8.2"/>
<circle cx="288.8" cy="1753.8" r="8.2"/>
<circle cx="292.0" cy="1826.8" r="8.2"/>
<circle cx="290.0" cy="1787.5" r="8.2"/>
<circle cx="297.5" cy="1770.0" r="8.2"/>
<circle cx="295.0" cy="1807.5" r="8.2"/>
<circle cx="301.2" cy="1815.0" r="8.2"/>
<circle cx="307.5" cy="1777.5" r="8.2"/>
<circle cx="310.0" cy="1803.8" r="8.2"/>
<circle cx="325.0" cy="1769.2" r="8.2"/>
<circle cx="332.5" cy="1780.0" r="8.2"/>
<circle cx="327.5" cy="1807.5" r="8.2"/>
<circle cx="333.8" cy="1823.0" r="8.2"/>
<circle cx="338.8" cy="1826.8" r="8.2"/>
<circle cx="350.0" cy="1765.5" r="8.2"/>
<circle cx="350.0" cy="1785.0" r="8.2"/>
<circle cx="342.5" cy="1802.5" r="8.2"/>
<circle cx="300.0" cy="1790.0" r="8.2"/>
<circle cx="312.5" cy="1790.0" r="8.2"/>
<circle cx="322.5" cy="1792.5" r="8.2"/>
<circle cx="335.0" cy="1792.5" r="8.2"/>
<circle cx="345.0" cy="1792.5" r="8.2"/>
<circle cx="315.0" cy="1781.2" r="8.2"/>
<circle cx="302.5" cy="1800.0" r="8.2"/>
<circle cx="351.2" cy="1765.5" r="8.2"/>
<circle cx="365.0" cy="1765.5" r="8.2"/>
<circle cx="381.2" cy="1765.5" r="8.2"/>
<circle cx="388.8" cy="1780.0" r="8.2"/>
<circle cx="412.5" cy="1772.5" r="8.2"/>
<circle cx="427.5" cy="1781.2" r="8.2"/>
<circle cx="445.0" cy="1780.0" r="8.2"/>
<circle cx="461.8" cy="1769.2" r="8.2"/>
<circle cx="477.5" cy="1781.2" r="8.2"/>
<circle cx="492.5" cy="1761.8" r="8.2"/>
<circle cx="510.0" cy="1765.5" r="8.2"/>
<circle cx="523.8" cy="1769.2" r="8.2"/>
<circle cx="533.8" cy="1765.5" r="8.2"/>
<circle cx="545.0" cy="1773.0" r="8.2"/>
<circle cx="560.0" cy="1773.0" r="8.2"/>
<circle cx="573.8" cy="1765.5" r="8.2"/>
<circle cx="568.8" cy="1785.0" r="8.2"/>
<circle cx="587.5" cy="1785.0" r="8.2"/>
<circle cx="340.0" cy="1826.8" r="8.2"/>
<circle cx="350.0" cy="1807.5" r="8.2"/>
<circle cx="367.5" cy="1811.2" r="8.2"/>
<circle cx="382.5" cy="1807.5" r="8.2"/>
<circle cx="393.8" cy="1815.0" r="8.2"/>
<circle cx="400.8" cy="1823.0" r="8.2"/>
<circle cx="423.8" cy="1818.8" r="8.2"/>
<circle cx="427.5" cy="1811.2" r="8.2"/>
<circle cx="444.5" cy="1823.0" r="8.2"/>
<circle cx="452.5" cy="1811.2" r="8.2"/>
<circle cx="467.0" cy="1823.0" r="8.2"/>
<circle cx="475.0" cy="1811.2" r="8.2"/>
<circle cx="495.0" cy="1807.5" r="8.2"/>
<circle cx="515.0" cy="1811.2" r="8.2"/>
<circle cx="537.5" cy="1811.2" r="8.2"/>
<circle cx="557.5" cy="1811.2" r="8.2"/>
<circle cx="565.0" cy="1800.0" r="8.2"/>
<circle cx="585.0" cy="1803.8" r="8.2"/>
<circle cx="525.0" cy="1785.0" r="8.2"/>
<circle cx="540.0" cy="1785.0" r="8.2"/>
<circle cx="550.0" cy="1795.0" r="8.2"/>
<circle cx="530.0" cy="1805.0" r="8.2"/>
<circle cx="500.0" cy="1785.0" r="8.2"/>
<circle cx="495.0" cy="1795.0" r="8.2"/>
<circle cx="505.0" cy="1772.5" r="8.2"/>
<circle cx="515.0" cy="1780.0" r="8.2"/>
<circle cx="607.5" cy="1769.2" r="8.2"/>
<circle cx="615.0" cy="1773.0" r="8.2"/>
<circle cx="637.5" cy="1765.5" r="8.2"/>
<circle cx="628.8" cy="1770.0" r="8.2"/>
<circle cx="645.8" cy="1773.0" r="8.2"/>
<circle cx="628.8" cy="1781.2" r="8.2"/>
<circle cx="612.5" cy="1788.8" r="8.2"/>
<circle cx="611.2" cy="1796.2" r="8.2"/>
<circle cx="583.8" cy="1785.0" r="8.2"/>
<circle cx="593.8" cy="1788.8" r="8.2"/>
<circle cx="580.0" cy="1766.2" r="8.2"/>
<circle cx="597.5" cy="1792.5" r="8.2"/>
<circle cx="587.5" cy="1795.0" r="8.2"/>
<circle cx="587.0" cy="1803.8" r="8.2"/>
<circle cx="608.2" cy="1807.5" r="8.2"/>
<circle cx="662.5" cy="1792.0" r="8.2"/>
<circle cx="677.5" cy="1788.8" r="8.2"/>
<circle cx="665.0" cy="1803.8" r="8.2"/>
<circle cx="699.2" cy="1777.0" r="8.2"/>
<circle cx="713.8" cy="1807.5" r="8.2"/>
<circle cx="757.0" cy="1780.8" r="8.2"/>
<circle cx="773.8" cy="1765.5" r="8.2"/>
<circle cx="795.0" cy="1792.5" r="8.2"/>
<circle cx="983.2" cy="1765.0" r="8.2"/>
<circle cx="399.5" cy="1811.5" r="8.2"/>
<circle cx="406.4" cy="1811.5" r="8.2"/>
<circle cx="409.4" cy="1811.5" r="8.2"/>
<circle cx="415.6" cy="1811.5" r="8.2"/>
<circle cx="419.5" cy="1811.5" r="8.2"/>
<circle cx="393.3" cy="1807.7" r="8.2"/>
<circle cx="398.8" cy="1807.7" r="8.2"/>
<circle cx="403.0" cy="1807.7" r="8.2"/>
<circle cx="409.5" cy="1807.7" r="8.2"/>
<circle cx="413.9" cy="1807.7" r="8.2"/>
<circle cx="419.8" cy="1807.7" r="8.2"/>
<circle cx="363.6" cy="1803.9" r="8.2"/>
<circle cx="368.4" cy="1803.9" r="8.2"/>
<circle cx="372.5" cy="1803.9" r="8.2"/>
<circle cx="390.4" cy="1803.9" r="8.2"/>
<circle cx="395.0" cy="1803.9" r="8.2"/>
<circle cx="399.9" cy="1803.9" r="8.2"/>
<circle cx="403.5" cy="1803.9" r="8.2"/>
<circle cx="411.2" cy="1803.9" r="8.2"/>
<circle cx="416.8" cy="1803.9" r="8.2"/>
<circle cx="420.7" cy="1803.9" r="8.2"/>
<circle cx="425.3" cy="1803.9" r="8.2"/>
<circle cx="431.2" cy="1803.9" r="8.2"/>
<circle cx="437.4" cy="1803.9" r="8.2"/>
<circle cx="442.3" cy="1803.9" r="8.2"/>
<circle cx="446.1" cy="1803.9" r="8.2"/>
<circle cx="451.8" cy="1803.9" r="8.2"/>
<circle cx="458.2" cy="1803.9" r="8.2"/>
<circle cx="464.7" cy="1803.9" r="8.2"/>
<circle cx="470.5" cy="1803.9" r="8.2"/>
<circle cx="477.9" cy="1803.9" r="8.2"/>
<circle cx="481.2" cy="1803.9" r="8.2"/>
<circle cx="505.7" cy="1803.9" r="8.2"/>
<circle cx="510.8" cy="1803.9" r="8.2"/>
<circle cx="517.5" cy="1803.9" r="8.2"/>
<circle cx="522.3" cy="1803.9" r="8.2"/>
<circle cx="528.8" cy="1803.9" r="8.2"/>
<circle cx="533.6" cy="1803.9" r="8.2"/>
<circle cx="539.1" cy="1803.9" r="8.2"/>
<circle cx="543.1" cy="1803.9" r="8.2"/>
<circle cx="347.8" cy="1800.0" r="8.2"/>
<circle cx="353.6" cy="1800.0" r="8.2"/>
<circle cx="359.8" cy="1800.0" r="8.2"/>
<circle cx="365.0" cy="1800.0" r="8.2"/>
<circle cx="370.8" cy="1800.0" r="8.2"/>
<circle cx="375.2" cy="1800.0" r="8.2"/>
<circle cx="379.8" cy="1800.0" r="8.2"/>
<circle cx="384.5" cy="1800.0" r="8.2"/>
<circle cx="389.8" cy="1800.0" r="8.2"/>
<circle cx="394.6" cy="1800.0" r="8.2"/>
<circle cx="402.7" cy="1800.0" r="8.2"/>
<circle cx="408.4" cy="1800.0" r="8.2"/>
<circle cx="415.8" cy="1800.0" r="8.2"/>
<circle cx="419.3" cy="1800.0" r="8.2"/>
<circle cx="423.9" cy="1800.0" r="8.2"/>
<circle cx="430.1" cy="1800.0" r="8.2"/>
<circle cx="437.3" cy="1800.0" r="8.2"/>
<circle cx="443.3" cy="1800.0" r="8.2"/>
<circle cx="449.2" cy="1800.0" r="8.2"/>
<circle cx="454.2" cy="1800.0" r="8.2"/>
<circle cx="460.2" cy="1800.0" r="8.2"/>
<circle cx="467.6" cy="1800.0" r="8.2"/>
<circle cx="472.8" cy="1800.0" r="8.2"/>
<circle cx="480.7" cy="1800.0" r="8.2"/>
<circle cx="484.4" cy="1800.0" r="8.2"/>
<circle cx="491.6" cy="1800.0" r="8.2"/>
<circle cx="493.7" cy="1800.0" r="8.2"/>
<circle cx="500.7" cy="1800.0" r="8.2"/>
<circle cx="506.3" cy="1800.0" r="8.2"/>
<circle cx="513.0" cy="1800.0" r="8.2"/>
<circle cx="518.9" cy="1800.0" r="8.2"/>
<circle cx="523.1" cy="1800.0" r="8.2"/>
<circle cx="528.2" cy="1800.0" r="8.2"/>
<circle cx="533.1" cy="1800.0" r="8.2"/>
<circle cx="540.3" cy="1800.0" r="8.2"/>
<circle cx="544.3" cy="1800.0" r="8.2"/>
<circle cx="346.9" cy="1796.2" r="8.2"/>
<circle cx="352.4" cy="1796.2" r="8.2"/>
<circle cx="357.7" cy="1796.2" r="8.2"/>
<circle cx="362.3" cy="1796.2" r="8.2"/>
<circle cx="367.8" cy="1796.2" r="8.2"/>
<circle cx="372.0" cy="1796.2" r="8.2"/>
<circle cx="378.2" cy="1796.2" r="8.2"/>
<circle cx="384.3" cy="1796.2" r="8.2"/>
<circle cx="391.0" cy="1796.2" r="8.2"/>
<circle cx="396.8" cy="1796.2" r="8.2"/>
<circle cx="403.3" cy="1796.2" r="8.2"/>
<circle cx="411.4" cy="1796.2" r="8.2"/>
<circle cx="415.5" cy="1796.2" r="8.2"/>
<circle cx="420.4" cy="1796.2" r="8.2"/>
<circle cx="425.6" cy="1796.2" r="8.2"/>
<circle cx="431.5" cy="1796.2" r="8.2"/>
<circle cx="436.3" cy="1796.2" r="8.2"/>
<circle cx="443.1" cy="1796.2" r="8.2"/>
<circle cx="448.6" cy="1796.2" r="8.2"/>
<circle cx="456.9" cy="1796.2" r="8.2"/>
<circle cx="461.5" cy="1796.2" r="8.2"/>
<circle cx="466.8" cy="1796.2" r="8.2"/>
<circle cx="472.3" cy="1796.2" r="8.2"/>
<circle cx="478.2" cy="1796.2" r="8.2"/>
<circle cx="485.3" cy="1796.2" r="8.2"/>
<circle cx="490.6" cy="1796.2" r="8.2"/>
<circle cx="496.4" cy="1796.2" r="8.2"/>
<circle cx="503.4" cy="1796.2" r="8.2"/>
<circle cx="510.9" cy="1796.2" r="8.2"/>
<circle cx="515.5" cy="1796.2" r="8.2"/>
<circle cx="521.1" cy="1796.2" r="8.2"/>
<circle cx="524.7" cy="1796.2" r="8.2"/>
<circle cx="531.4" cy="1796.2" r="8.2"/>
<circle cx="538.5" cy="1796.2" r="8.2"/>
<circle cx="544.5" cy="1796.2" r="8.2"/>
<circle cx="345.7" cy="1792.3" r="8.2"/>
<circle cx="352.8" cy="1792.3" r="8.2"/>
<circle cx="358.8" cy="1792.3" r="8.2"/>
<circle cx="363.7" cy="1792.3" r="8.2"/>
<circle cx="370.2" cy="1792.3" r="8.2"/>
<circle cx="374.5" cy="1792.3" r="8.2"/>
<circle cx="380.5" cy="1792.3" r="8.2"/>
<circle cx="385.5" cy="1792.3" r="8.2"/>
<circle cx="391.7" cy="1792.3" r="8.2"/>
<circle cx="396.3" cy="1792.3" r="8.2"/>
<circle cx="399.8" cy="1792.3" r="8.2"/>
<circle cx="404.0" cy="1792.3" r="8.2"/>
<circle cx="409.2" cy="1792.3" r="8.2"/>
<circle cx="413.7" cy="1792.3" r="8.2"/>
<circle cx="417.7" cy="1792.3" r="8.2"/>
<circle cx="423.7" cy="1792.3" r="8.2"/>
<circle cx="430.1" cy="1792.3" r="8.2"/>
<circle cx="436.3" cy="1792.3" r="8.2"/>
<circle cx="442.3" cy="1792.3" r="8.2"/>
<circle cx="445.8" cy="1792.3" r="8.2"/>
<circle cx="450.4" cy="1792.3" r="8.2"/>
<circle cx="455.6" cy="1792.3" r="8.2"/>
<circle cx="460.9" cy="1792.3" r="8.2"/>
<circle cx="464.7" cy="1792.3" r="8.2"/>
<circle cx="472.3" cy="1792.3" r="8.2"/>
<circle cx="477.7" cy="1792.3" r="8.2"/>
<circle cx="484.8" cy="1792.3" r="8.2"/>
<circle cx="490.8" cy="1792.3" r="8.2"/>
<circle cx="495.0" cy="1792.3" r="8.2"/>
<circle cx="501.8" cy="1792.3" r="8.2"/>
<circle cx="505.6" cy="1792.3" r="8.2"/>
<circle cx="510.2" cy="1792.3" r="8.2"/>
<circle cx="516.9" cy="1792.3" r="8.2"/>
<circle cx="524.9" cy="1792.3" r="8.2"/>
<circle cx="528.9" cy="1792.3" r="8.2"/>
<circle cx="533.2" cy="1792.3" r="8.2"/>
<circle cx="537.5" cy="1792.3" r="8.2"/>
<circle cx="545.6" cy="1792.3" r="8.2"/>
<circle cx="344.7" cy="1788.5" r="8.2"/>
<circle cx="349.5" cy="1788.5" r="8.2"/>
<circle cx="354.4" cy="1788.5" r="8.2"/>
<circle cx="360.5" cy="1788.5" r="8.2"/>
<circle cx="368.8" cy="1788.5" r="8.2"/>
<circle cx="373.7" cy="1788.5" r="8.2"/>
<circle cx="379.8" cy="1788.5" r="8.2"/>
<circle cx="387.0" cy="1788.5" r="8.2"/>
<circle cx="392.0" cy="1788.5" r="8.2"/>
<circle cx="396.8" cy="1788.5" r="8.2"/>
<circle cx="403.0" cy="1788.5" r="8.2"/>
<circle cx="407.8" cy="1788.5" r="8.2"/>
<circle cx="412.5" cy="1788.5" r="8.2"/>
<circle cx="418.4" cy="1788.5" r="8.2"/>
<circle cx="425.6" cy="1788.5" r="8.2"/>
<circle cx="431.9" cy="1788.5" r="8.2"/>
<circle cx="436.6" cy="1788.5" r="8.2"/>
<circle cx="442.7" cy="1788.5" r="8.2"/>
<circle cx="447.4" cy="1788.5" r="8.2"/>
<circle cx="453.6" cy="1788.5" r="8.2"/>
<circle cx="456.8" cy="1788.5" r="8.2"/>
<circle cx="464.0" cy="1788.5" r="8.2"/>
<circle cx="470.8" cy="1788.5" r="8.2"/>
<circle cx="477.5" cy="1788.5" r="8.2"/>
<circle cx="480.5" cy="1788.5" r="8.2"/>
<circle cx="488.1" cy="1788.5" r="8.2"/>
<circle cx="490.8" cy="1788.5" r="8.2"/>
<circle cx="495.5" cy="1788.5" r="8.2"/>
<circle cx="502.2" cy="1788.5" r="8.2"/>
<circle cx="506.9" cy="1788.5" r="8.2"/>
<circle cx="511.1" cy="1788.5" r="8.2"/>
<circle cx="518.8" cy="1788.5" r="8.2"/>
<circle cx="523.6" cy="1788.5" r="8.2"/>
<circle cx="530.7" cy="1788.5" r="8.2"/>
<circle cx="534.9" cy="1788.5" r="8.2"/>
<circle cx="539.6" cy="1788.5" r="8.2"/>
<circle cx="544.0" cy="1788.5" r="8.2"/>
<circle cx="344.4" cy="1784.6" r="8.2"/>
<circle cx="350.3" cy="1784.6" r="8.2"/>
<circle cx="353.5" cy="1784.6" r="8.2"/>
<circle cx="359.9" cy="1784.6" r="8.2"/>
<circle cx="364.8" cy="1784.6" r="8.2"/>
<circle cx="370.9" cy="1784.6" r="8.2"/>
<circle cx="378.7" cy="1784.6" r="8.2"/>
<circle cx="382.3" cy="1784.6" r="8.2"/>
<circle cx="394.4" cy="1784.6" r="8.2"/>
<circle cx="398.7" cy="1784.6" r="8.2"/>
<circle cx="404.4" cy="1784.6" r="8.2"/>
<circle cx="408.6" cy="1784.6" r="8.2"/>
<circle cx="415.5" cy="1784.6" r="8.2"/>
<circle cx="419.5" cy="1784.6" r="8.2"/>
<circle cx="449.6" cy="1784.6" r="8.2"/>
<circle cx="455.5" cy="1784.6" r="8.2"/>
<circle cx="460.8" cy="1784.6" r="8.2"/>
<circle cx="465.3" cy="1784.6" r="8.2"/>
<circle cx="471.7" cy="1784.6" r="8.2"/>
<circle cx="481.3" cy="1784.6" r="8.2"/>
<circle cx="486.4" cy="1784.6" r="8.2"/>
<circle cx="492.8" cy="1784.6" r="8.2"/>
<circle cx="499.4" cy="1784.6" r="8.2"/>
<circle cx="503.7" cy="1784.6" r="8.2"/>
<circle cx="510.1" cy="1784.6" r="8.2"/>
<circle cx="515.9" cy="1784.6" r="8.2"/>
<circle cx="519.4" cy="1784.6" r="8.2"/>
<circle cx="526.7" cy="1784.6" r="8.2"/>
<circle cx="533.5" cy="1784.6" r="8.2"/>
<circle cx="536.5" cy="1784.6" r="8.2"/>
<circle cx="542.2" cy="1784.6" r="8.2"/>
<circle cx="347.2" cy="1780.8" r="8.2"/>
<circle cx="351.6" cy="1780.8" r="8.2"/>
<circle cx="357.3" cy="1780.8" r="8.2"/>
<circle cx="361.9" cy="1780.8" r="8.2"/>
<circle cx="366.9" cy="1780.8" r="8.2"/>
<circle cx="374.5" cy="1780.8" r="8.2"/>
<circle cx="379.5" cy="1780.8" r="8.2"/>
<circle cx="406.1" cy="1780.8" r="8.2"/>
<circle cx="411.1" cy="1780.8" r="8.2"/>
<circle cx="457.6" cy="1780.8" r="8.2"/>
<circle cx="460.8" cy="1780.8" r="8.2"/>
<circle cx="465.8" cy="1780.8" r="8.2"/>
<circle cx="487.1" cy="1780.8" r="8.2"/>
<circle cx="493.1" cy="1780.8" r="8.2"/>
<circle cx="500.7" cy="1780.8" r="8.2"/>
<circle cx="504.3" cy="1780.8" r="8.2"/>
<circle cx="510.1" cy="1780.8" r="8.2"/>
<circle cx="515.6" cy="1780.8" r="8.2"/>
<circle cx="521.6" cy="1780.8" r="8.2"/>
<circle cx="526.2" cy="1780.8" r="8.2"/>
<circle cx="532.3" cy="1780.8" r="8.2"/>
<circle cx="538.5" cy="1780.8" r="8.2"/>
<circle cx="543.7" cy="1780.8" r="8.2"/>
<circle cx="345.5" cy="1776.9" r="8.2"/>
<circle cx="352.1" cy="1776.9" r="8.2"/>
<circle cx="358.2" cy="1776.9" r="8.2"/>
<circle cx="365.8" cy="1776.9" r="8.2"/>
<circle cx="372.1" cy="1776.9" r="8.2"/>
<circle cx="378.5" cy="1776.9" r="8.2"/>
<circle cx="490.1" cy="1776.9" r="8.2"/>
<circle cx="496.1" cy="1776.9" r="8.2"/>
<circle cx="501.4" cy="1776.9" r="8.2"/>
<circle cx="508.5" cy="1776.9" r="8.2"/>
<circle cx="514.6" cy="1776.9" r="8.2"/>
<circle cx="523.0" cy="1776.9" r="8.2"/>
<circle cx="525.9" cy="1776.9" r="8.2"/>
<circle cx="532.5" cy="1776.9" r="8.2"/>
<circle cx="536.9" cy="1776.9" r="8.2"/>
<circle cx="350.8" cy="1773.0" r="8.2"/>
<circle cx="357.3" cy="1773.0" r="8.2"/>
<circle cx="366.2" cy="1773.0" r="8.2"/>
<circle cx="371.9" cy="1773.0" r="8.2"/>
<circle cx="376.3" cy="1773.0" r="8.2"/>
<circle cx="494.7" cy="1773.0" r="8.2"/>
<circle cx="500.7" cy="1773.0" r="8.2"/>
<circle cx="506.1" cy="1773.0" r="8.2"/>
</g>
<g fill="#b9e1eb">
<circle cx="353.1" cy="1438.1" r="8.2"/>
<circle cx="456.4" cy="1442.0" r="8.2"/>
<circle cx="495.1" cy="1488.2" r="8.2"/>
<circle cx="460.6" cy="1503.5" r="8.2"/>
<circle cx="502.9" cy="1522.8" r="8.2"/>
<circle cx="500.6" cy="1526.7" r="8.2"/>
<circle cx="443.9" cy="1534.4" r="8.2"/>
<circle cx="598.4" cy="1484.3" r="8.2"/>
<circle cx="695.8" cy="1461.2" r="8.2"/>
<circle cx="386.2" cy="1603.7" r="8.2"/>
<circle cx="416.0" cy="1646.0" r="8.2"/>
<circle cx="587.9" cy="1688.4" r="8.2"/>
<circle cx="589.2" cy="1703.8" r="8.2"/>
<circle cx="571.1" cy="1738.4" r="8.2"/>
<circle cx="318.3" cy="1738.4" r="8.2"/>
<circle cx="382.3" cy="1746.1" r="8.2"/>
<circle cx="617.1" cy="1750.0" r="8.2"/>
</g>
<g fill="#4878ba">
<circle cx="527.9" cy="1430.4" r="8.2"/>
<circle cx="296.7" cy="1534.4" r="8.2"/>
<circle cx="464.9" cy="1545.9" r="8.2"/>
<circle cx="713.8" cy="1542.0" r="8.2"/>
<circle cx="635.4" cy="1599.8" r="8.2"/>
<circle cx="662.0" cy="1634.5" r="8.2"/>
<circle cx="736.7" cy="1742.2" r="8.2"/>
<circle cx="652.1" cy="1746.1" r="8.2"/>
<circle cx="630.2" cy="1757.7" r="8.2"/>
<circle cx="953.8" cy="1657.5" r="8.2"/>
<circle cx="778.4" cy="1765.4" r="8.2"/>
</g>
<g stroke="#111111" stroke-width="2" fill="none">
<line x1="103.5" y1="1367.50" x2="103.5" y2="1863.70"/>
<line x1="102.5" y1="1862.70" x2="1000" y2="1862.70"/>
<line x1="93" y1="1846.20" x2="103.5" y2="1846.20"/>
<line x1="93" y1="1769.20" x2="103.5" y2="1769.20"/>
<line x1="93" y1="1692.20" x2="103.5" y2="1692.20"/>
<line x1="93" y1="1615.20" x2="103.5" y2="1615.20"/>
<line x1="93" y1="1538.20" x2="103.5" y2="1538.20"/>
<line x1="93" y1="1461.20" x2="103.5" y2="1461.20"/>
<line x1="93" y1="1384.20" x2="103.5" y2="1384.20"/>
<line x1="221.25" y1="1862.70" x2="221.25" y2="1872.70"/>
<line x1="308.53" y1="1862.70" x2="308.53" y2="1872.70"/>
<line x1="352.17" y1="1862.70" x2="352.17" y2="1872.70"/>
<line x1="417.63" y1="1862.70" x2="417.63" y2="1872.70"/>
<line x1="701.29" y1="1862.70" x2="701.29" y2="1872.70"/>
<line x1="919.49" y1="1862.70" x2="919.49" y2="1872.70"/>
</g>
<g font-family='"Liberation Sans", sans-serif' font-size="26" fill="#111111" stroke="#111111" stroke-width="0.35">
<text x="87" y="1855.90" text-anchor="end">4</text>
<text x="87" y="1778.90" text-anchor="end">6</text>
<text x="87" y="1701.90" text-anchor="end">8</text>
<text x="87" y="1624.90" text-anchor="end">10</text>
<text x="87" y="1547.90" text-anchor="end">12</text>
<text x="87" y="1470.90" text-anchor="end">14</text>
<text x="87" y="1393.90" text-anchor="end">16</text>
<text transform="translate(228.75,1884.90) rotate(-45)" text-anchor="end">14</text>
<text transform="translate(316.03,1884.90) rotate(-45)" text-anchor="end">16</text>
<text transform="translate(359.67,1884.90) rotate(-45)" text-anchor="end">17</text>
<text transform="translate(425.13,1884.90) rotate(-45)" text-anchor="end">18.5</text>
<text transform="translate(708.79,1884.90) rotate(-45)" text-anchor="end">25</text>
<text transform="translate(926.99,1884.90) rotate(-45)" text-anchor="end">30</text>
<text transform="translate(40.6,1619.10) rotate(-90)" text-anchor="middle" font-size="26.4">HbA1C %:</text>
<text x="551.5" y="1954" text-anchor="middle" font-size="26.4">Body mass index: Negros</text>
</g>
<text transform="translate(-1.2,1375.0) scale(0.945,1)" font-family='"Liberation Sans", sans-serif' font-size="43.6" fill="#111111" stroke="#111111" stroke-width="0.5">C.</text>
</g>
<g id="legend">
<rect x="196.8" y="1974.8" width="710" height="83.2" fill="#ffffff" stroke="#111111" stroke-width="2"/>
<circle cx="217.2" cy="1999.1" r="8.2" fill="#b3b3b3"/>
<circle cx="217.2" cy="2035.8" r="8.2" fill="#4878ba"/>
<circle cx="599" cy="1999.1" r="8.2" fill="#b9e1eb"/>
<g font-family='"Liberation Sans", sans-serif' font-size="26.4" fill="#111111" stroke="#111111" stroke-width="0.35">
<text x="242.5" y="2008.8">not diabetic</text>
<text x="242.5" y="2044.8">existing diabetic diagnosis</text>
<text x="624.5" y="2008.8">new diabetic diagnosis</text>
</g></g>
</svg>
</body></html>
